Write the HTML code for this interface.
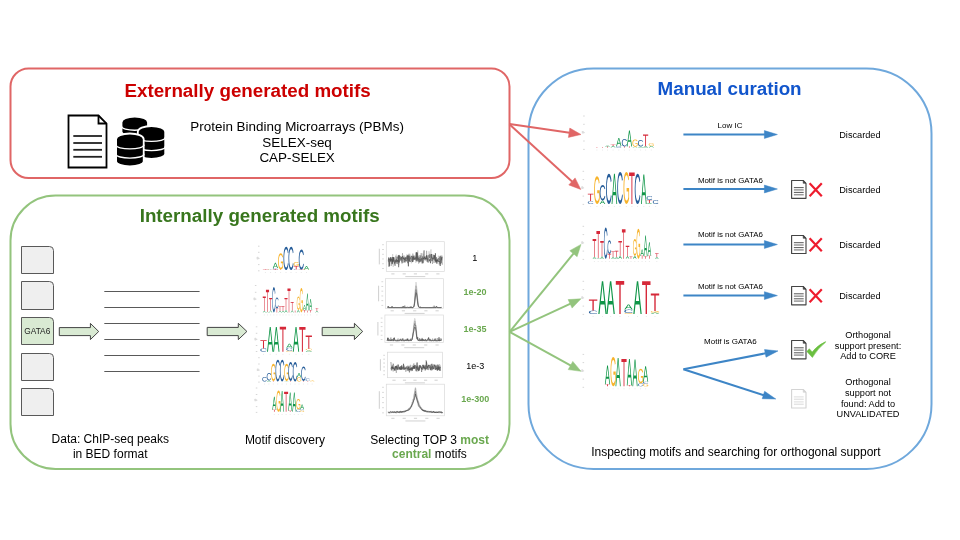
<!DOCTYPE html>
<html><head><meta charset="utf-8"><style>
html,body{margin:0;padding:0;background:#fff;width:960px;height:540px;overflow:hidden;position:relative}
svg{will-change:transform}
svg text{font-family:"Liberation Sans", sans-serif}
</style></head><body>
<svg width="960" height="540" viewBox="0 0 960 540" style="position:absolute;left:0;top:0">
<g font-family='"Liberation Sans", sans-serif'>
<defs><path id="gA" d="M0.8564 1 0.7378 0.7076H0.2651L0.1458 1H0L0.4234 0H0.5832L1 1ZM0.5015 0.1022 0.4948 0.1221Q0.4764 0.181 0.4404 0.2732L0.3078 0.6018H0.6959L0.5626 0.2718Q0.542 0.2229 0.5214 0.1611Z" fill="#109648"/><path id="gC" d="M0.5305 0.1076Q0.35 0.1076 0.2498 0.2114Q0.1496 0.3152 0.1496 0.4959Q0.1496 0.6745 0.254 0.7831Q0.3585 0.8917 0.5366 0.8917Q0.7648 0.8917 0.8797 0.6897L1 0.7434Q0.9329 0.869 0.8115 0.9345Q0.6901 1 0.5297 1Q0.3655 1 0.2456 0.939Q0.1257 0.8779 0.0628 0.7645Q0 0.651 0 0.4959Q0 0.2634 0.1403 0.1317Q0.2806 0 0.5289 0Q0.7024 0 0.8188 0.0607Q0.9352 0.1214 0.99 0.2407L0.8504 0.2821Q0.8126 0.1972 0.729 0.1524Q0.6453 0.1076 0.5305 0.1076Z" fill="#255C99"/><path id="gG" d="M0 0.4959Q0 0.2593 0.1376 0.1297Q0.2752 0 0.5243 0Q0.6993 0 0.8085 0.0545Q0.9177 0.109 0.9768 0.229L0.8407 0.2662Q0.7958 0.1834 0.7169 0.1455Q0.638 0.1076 0.5206 0.1076Q0.3381 0.1076 0.2416 0.2093Q0.1451 0.311 0.1451 0.4959Q0.1451 0.68 0.2476 0.7866Q0.35 0.8931 0.531 0.8931Q0.6343 0.8931 0.7236 0.8641Q0.813 0.8352 0.8684 0.7855V0.6103H0.5535V0.5H1V0.8352Q0.9162 0.9138 0.7947 0.9569Q0.6731 1 0.531 1Q0.3657 1 0.2461 0.9393Q0.1264 0.8786 0.0632 0.7645Q0 0.6503 0 0.4959Z" fill="#F7B32B"/><path id="gT" d="M0.582 0.1107V1H0.418V0.1107H0V0H1V0.1107Z" fill="#D62839"/></defs>
<rect x="10.5" y="68.5" width="499" height="109.6" rx="18" ry="18" fill="none" stroke="#e06666" stroke-width="2"/>
<rect x="10.5" y="195.5" width="499" height="273.4" rx="45" ry="45" fill="none" stroke="#93c47d" stroke-width="2"/>
<rect x="528.5" y="68.5" width="403" height="400.4" rx="65" ry="65" fill="none" stroke="#6fa8dc" stroke-width="2"/>
<text x="247.6" y="96.7" font-size="18.8" font-weight="bold" fill="#cc0000" text-anchor="middle" >Externally generated motifs</text>
<text x="259.7" y="221.7" font-size="18.8" font-weight="bold" fill="#38761d" text-anchor="middle" >Internally generated motifs</text>
<text x="729.6" y="94.7" font-size="18.8" font-weight="bold" fill="#1155cc" text-anchor="middle" >Manual curation</text>
<text x="297.1" y="130.6" font-size="13.45" font-weight="normal" fill="#000" text-anchor="middle" >Protein Binding Microarrays (PBMs)</text>
<text x="297.1" y="146.8" font-size="13.45" font-weight="normal" fill="#000" text-anchor="middle" >SELEX-seq</text>
<text x="297.1" y="162.2" font-size="13.45" font-weight="normal" fill="#000" text-anchor="middle" >CAP-SELEX</text>
<path d="M68.5,115.5 H98.5 L106.5,123.5 V167.5 H68.5 Z" fill="#fff" stroke="#000" stroke-width="1.8" stroke-linejoin="miter"/>
<path d="M98.5,115.5 V123.5 H106.5" fill="none" stroke="#000" stroke-width="1.8"/>
<line x1="73.3" y1="136" x2="102" y2="136" stroke="#222" stroke-width="1.8"/>
<line x1="73.3" y1="143" x2="102" y2="143" stroke="#222" stroke-width="1.8"/>
<line x1="73.3" y1="149.8" x2="102" y2="149.8" stroke="#222" stroke-width="1.8"/>
<line x1="73.3" y1="156.8" x2="102" y2="156.8" stroke="#222" stroke-width="1.8"/>
<path d="M121.5,122.4 A13.2,5.8 0 0 1 148.0,122.4 V131.8 A13.2,4.8 0 0 1 121.5,131.8 Z" fill="#000" stroke="#fff" stroke-width="1.8"/>
<path d="M120.7,126.6 L121.5,126.6 A13.2,3.6 0 0 0 148.0,126.6 L148.8,126.6" fill="none" stroke="#fff" stroke-width="1.4"/>
<path d="M137.8,131.8 A13.7,5.8 0 0 1 165.2,131.8 V154.0 A13.7,4.8 0 0 1 137.8,154.0 Z" fill="#000" stroke="#fff" stroke-width="1.8"/>
<path d="M137.0,137.8 L137.8,137.8 A13.7,3.6 0 0 0 165.2,137.8 L166.0,137.8" fill="none" stroke="#fff" stroke-width="1.4"/>
<path d="M137.0,147.0 L137.8,147.0 A13.7,3.6 0 0 0 165.2,147.0 L166.0,147.0" fill="none" stroke="#fff" stroke-width="1.4"/>
<path d="M116.1,139.3 A13.8,5.8 0 0 1 143.7,139.3 V161.5 A13.8,4.8 0 0 1 116.1,161.5 Z" fill="#000" stroke="#fff" stroke-width="1.8"/>
<path d="M115.3,145.3 L116.1,145.3 A13.8,3.6 0 0 0 143.7,145.3 L144.5,145.3" fill="none" stroke="#fff" stroke-width="1.4"/>
<path d="M115.3,154.5 L116.1,154.5 A13.8,3.6 0 0 0 143.7,154.5 L144.5,154.5" fill="none" stroke="#fff" stroke-width="1.4"/>
<path d="M21.5,273.5 V246.5 H49.5 Q53.5,246.5 53.5,250.5 V273.5 Z" fill="#efefef" stroke="#595959" stroke-width="1"/>
<path d="M21.5,309.5 V281.5 H49.5 Q53.5,281.5 53.5,285.5 V309.5 Z" fill="#efefef" stroke="#595959" stroke-width="1"/>
<path d="M21.5,344.5 V317.5 H49.5 Q53.5,317.5 53.5,321.5 V344.5 Z" fill="#d9ead3" stroke="#595959" stroke-width="1"/>
<path d="M21.5,380.5 V353.5 H49.5 Q53.5,353.5 53.5,357.5 V380.5 Z" fill="#efefef" stroke="#595959" stroke-width="1"/>
<path d="M21.5,415.5 V388.5 H49.5 Q53.5,388.5 53.5,392.5 V415.5 Z" fill="#efefef" stroke="#595959" stroke-width="1"/>
<text x="37.3" y="333.9" font-size="8.3" font-weight="normal" fill="#222" text-anchor="middle" >GATA6</text>
<path d="M59.3,327.6 H90.4 V323.4 L98.7,331.5 L90.4,339.6 V335.6 H59.3 Z" fill="#d9ead3" stroke="#434343" stroke-width="1" stroke-linejoin="miter"/>
<path d="M207.2,327.4 H238.3 V323.3 L246.9,331.45000000000005 L238.3,339.6 V335.6 H207.2 Z" fill="#d9ead3" stroke="#434343" stroke-width="1" stroke-linejoin="miter"/>
<path d="M322.2,327.4 H354.4 V323.3 L362.7,331.45000000000005 L354.4,339.6 V335.6 H322.2 Z" fill="#d9ead3" stroke="#434343" stroke-width="1" stroke-linejoin="miter"/>
<line x1="104.3" y1="291.5" x2="199.6" y2="291.5" stroke="#595959" stroke-width="1.1"/>
<line x1="104.3" y1="307.5" x2="199.6" y2="307.5" stroke="#595959" stroke-width="1.1"/>
<line x1="104.3" y1="323.5" x2="199.6" y2="323.5" stroke="#595959" stroke-width="1.1"/>
<line x1="104.3" y1="339.5" x2="199.6" y2="339.5" stroke="#595959" stroke-width="1.1"/>
<line x1="104.3" y1="355.5" x2="199.6" y2="355.5" stroke="#595959" stroke-width="1.1"/>
<line x1="104.3" y1="371.5" x2="199.6" y2="371.5" stroke="#595959" stroke-width="1.1"/>
<text x="110.3" y="443.3" font-size="12" font-weight="normal" fill="#000" text-anchor="middle" >Data: ChIP-seq peaks</text>
<text x="110.3" y="457.5" font-size="12" font-weight="normal" fill="#000" text-anchor="middle" >in BED format</text>
<text x="284.9" y="444" font-size="12" font-weight="normal" fill="#000" text-anchor="middle" >Motif discovery</text>
<text x="429.6" y="444" font-size="12" text-anchor="middle">Selecting TOP 3 <tspan font-weight="bold" fill="#6aa84f">most</tspan></text>
<text x="429.4" y="457.5" font-size="12" text-anchor="middle"><tspan font-weight="bold" fill="#6aa84f">central</tspan> motifs</text>
<text x="474.8" y="261.1" font-size="9.2" font-weight="normal" fill="#000" text-anchor="middle" >1</text>
<text x="475.1" y="294.8" font-size="9" font-weight="bold" fill="#6aa84f" text-anchor="middle" >1e-20</text>
<text x="475.0" y="332.4" font-size="9" font-weight="bold" fill="#6aa84f" text-anchor="middle" >1e-35</text>
<text x="475.3" y="369.4" font-size="9" font-weight="normal" fill="#000" text-anchor="middle" >1e-3</text>
<text x="475.2" y="402.1" font-size="9" font-weight="bold" fill="#6aa84f" text-anchor="middle" >1e-300</text>
<rect x="386.3" y="241.7" width="58.0" height="29.7" fill="none" stroke="#d9d9d9" stroke-width="0.7"/>
<rect x="382.1" y="244.3" width="1.8" height="0.9" fill="#d4d4d4"/>
<rect x="382.1" y="249.0" width="1.8" height="0.9" fill="#d4d4d4"/>
<rect x="382.1" y="253.8" width="1.8" height="0.9" fill="#d4d4d4"/>
<rect x="382.1" y="258.5" width="1.8" height="0.9" fill="#d4d4d4"/>
<rect x="382.1" y="263.3" width="1.8" height="0.9" fill="#d4d4d4"/>
<rect x="382.1" y="268.0" width="1.8" height="0.9" fill="#d4d4d4"/>
<rect x="378.8" y="248.7" width="1.0" height="15.7" fill="#cfcfcf"/>
<rect x="391.3" y="273.4" width="3.2" height="1.0" fill="#d0d0d0"/>
<rect x="402.6" y="273.4" width="3.2" height="1.0" fill="#d0d0d0"/>
<rect x="413.8" y="273.4" width="3.2" height="1.0" fill="#d0d0d0"/>
<rect x="425.1" y="273.4" width="3.2" height="1.0" fill="#d0d0d0"/>
<rect x="436.3" y="273.4" width="3.2" height="1.0" fill="#d0d0d0"/>
<rect x="405.3" y="276.0" width="20" height="1.1" fill="#d6d6d6"/>
<polyline points="388.3,258.0 388.8,257.4 389.3,264.3 389.8,261.2 390.3,260.6 390.8,260.7 391.2,261.0 391.7,261.1 392.2,260.0 392.7,254.1 393.2,266.9 393.7,262.3 394.2,261.2 394.7,260.2 395.2,262.4 395.7,260.3 396.2,254.5 396.6,259.6 397.1,261.2 397.6,261.4 398.1,258.2 398.6,258.2 399.1,257.2 399.6,260.9 400.1,260.9 400.6,256.2 401.1,260.9 401.6,259.6 402.0,260.9 402.5,258.5 403.0,260.5 403.5,261.6 404.0,258.6 404.5,262.4 405.0,258.3 405.5,258.8 406.0,261.2 406.5,260.4 407.0,254.2 407.4,259.3 407.9,258.4 408.4,255.4 408.9,260.7 409.4,258.0 409.9,253.8 410.4,258.3 410.9,258.7 411.4,263.3 411.9,259.2 412.4,257.9 412.8,257.3 413.3,255.2 413.8,260.1 414.3,255.4 414.8,258.8 415.3,257.9 415.8,262.8 416.3,260.8 416.8,257.2 417.3,259.9 417.8,250.4 418.2,257.7 418.7,255.0 419.2,255.5 419.7,256.2 420.2,255.1 420.7,258.7 421.2,260.8 421.7,255.3 422.2,257.5 422.7,253.4 423.2,254.3 423.6,261.7 424.1,261.0 424.6,258.3 425.1,259.6 425.6,259.8 426.1,258.5 426.6,259.9 427.1,258.2 427.6,260.2 428.1,259.2 428.6,260.3 429.0,251.3 429.5,256.7 430.0,260.0 430.5,251.7 431.0,249.4 431.5,254.9 432.0,259.2 432.5,254.2 433.0,259.1 433.5,259.5 434.0,257.0 434.4,258.1 434.9,257.4 435.4,261.1 435.9,258.7 436.4,257.0 436.9,258.6 437.4,258.4 437.9,261.4 438.4,255.7 438.9,264.4 439.4,260.3 439.8,262.1 440.3,259.4 440.8,260.4 441.3,258.3 441.8,255.0 442.3,261.2" fill="none" stroke="#c4c4c4" stroke-width="0.6" stroke-linejoin="round"/>
<polyline points="388.3,259.6 388.8,266.8 389.3,265.4 389.8,261.8 390.3,261.6 390.8,259.9 391.2,266.0 391.7,260.4 392.2,263.5 392.7,258.9 393.2,259.7 393.7,258.0 394.2,261.9 394.7,260.3 395.2,260.8 395.7,256.1 396.2,256.5 396.6,257.4 397.1,260.3 397.6,259.8 398.1,255.5 398.6,265.1 399.1,254.9 399.6,259.8 400.1,256.6 400.6,259.3 401.1,259.5 401.6,261.9 402.0,261.1 402.5,253.2 403.0,263.0 403.5,258.4 404.0,255.5 404.5,260.6 405.0,262.8 405.5,259.7 406.0,257.0 406.5,255.9 407.0,259.1 407.4,256.2 407.9,259.7 408.4,260.8 408.9,253.8 409.4,260.3 409.9,255.6 410.4,258.5 410.9,257.9 411.4,259.4 411.9,258.7 412.4,259.5 412.8,253.6 413.3,256.4 413.8,255.6 414.3,256.6 414.8,258.7 415.3,257.1 415.8,260.2 416.3,256.1 416.8,259.1 417.3,257.4 417.8,258.4 418.2,256.0 418.7,263.6 419.2,258.6 419.7,259.5 420.2,258.8 420.7,261.9 421.2,253.1 421.7,259.1 422.2,256.2 422.7,260.3 423.2,258.0 423.6,257.3 424.1,258.8 424.6,258.4 425.1,256.5 425.6,256.5 426.1,261.0 426.6,250.8 427.1,262.0 427.6,258.1 428.1,258.3 428.6,260.1 429.0,257.7 429.5,255.4 430.0,256.3 430.5,259.3 431.0,255.3 431.5,256.9 432.0,257.8 432.5,264.0 433.0,256.9 433.5,260.6 434.0,263.0 434.4,261.6 434.9,260.1 435.4,259.4 435.9,262.9 436.4,260.7 436.9,259.3 437.4,261.3 437.9,259.0 438.4,259.8 438.9,260.5 439.4,260.7 439.8,256.1 440.3,255.6 440.8,260.2 441.3,262.2 441.8,263.0 442.3,256.2" fill="none" stroke="#9a9a9a" stroke-width="0.6" stroke-linejoin="round"/>
<polyline points="388.3,262.1 388.8,260.1 389.3,258.6 389.8,258.7 390.3,261.7 390.8,257.3 391.2,261.5 391.7,260.7 392.2,259.9 392.7,262.4 393.2,261.3 393.7,257.1 394.2,259.3 394.7,265.3 395.2,265.8 395.7,260.0 396.2,261.9 396.6,258.7 397.1,256.8 397.6,257.0 398.1,259.5 398.6,267.2 399.1,262.0 399.6,260.8 400.1,259.8 400.6,259.7 401.1,260.5 401.6,256.9 402.0,263.4 402.5,259.2 403.0,257.1 403.5,259.2 404.0,257.6 404.5,262.0 405.0,257.6 405.5,261.4 406.0,259.5 406.5,257.3 407.0,259.0 407.4,258.6 407.9,263.2 408.4,255.6 408.9,255.0 409.4,261.3 409.9,261.0 410.4,261.5 410.9,261.1 411.4,261.2 411.9,255.7 412.4,262.1 412.8,259.5 413.3,256.5 413.8,259.7 414.3,258.6 414.8,259.0 415.3,257.9 415.8,260.3 416.3,252.0 416.8,254.1 417.3,259.4 417.8,259.5 418.2,259.1 418.7,258.1 419.2,256.9 419.7,260.2 420.2,255.5 420.7,260.4 421.2,261.5 421.7,259.5 422.2,259.2 422.7,256.6 423.2,263.2 423.6,253.8 424.1,250.4 424.6,259.7 425.1,259.6 425.6,257.6 426.1,259.7 426.6,255.1 427.1,258.5 427.6,259.7 428.1,259.4 428.6,255.3 429.0,254.8 429.5,257.9 430.0,253.9 430.5,256.1 431.0,256.6 431.5,257.9 432.0,257.5 432.5,258.2 433.0,257.7 433.5,254.8 434.0,259.4 434.4,255.5 434.9,255.8 435.4,261.3 435.9,258.6 436.4,257.5 436.9,261.6 437.4,259.4 437.9,261.3 438.4,258.1 438.9,259.1 439.4,260.2 439.8,256.7 440.3,263.8 440.8,256.0 441.3,258.9 441.8,259.7 442.3,257.0" fill="none" stroke="#6a6a6a" stroke-width="0.6" stroke-linejoin="round"/>
<polyline points="388.3,260.5 388.8,257.6 389.3,266.3 389.8,259.1 390.3,260.6 390.8,257.3 391.2,260.4 391.7,258.7 392.2,264.2 392.7,257.0 393.2,261.5 393.7,257.3 394.2,262.0 394.7,263.6 395.2,261.7 395.7,261.9 396.2,259.3 396.6,262.5 397.1,263.8 397.6,260.0 398.1,262.1 398.6,255.3 399.1,262.5 399.6,255.6 400.1,257.0 400.6,258.9 401.1,259.6 401.6,257.6 402.0,257.5 402.5,256.1 403.0,258.8 403.5,258.6 404.0,258.8 404.5,259.7 405.0,257.7 405.5,257.6 406.0,260.8 406.5,261.2 407.0,259.7 407.4,255.3 407.9,259.7 408.4,266.3 408.9,256.0 409.4,259.6 409.9,261.7 410.4,258.9 410.9,256.9 411.4,256.3 411.9,256.9 412.4,256.7 412.8,261.9 413.3,259.7 413.8,256.3 414.3,259.7 414.8,258.4 415.3,258.6 415.8,257.2 416.3,252.7 416.8,261.3 417.3,252.5 417.8,260.8 418.2,261.5 418.7,258.5 419.2,259.3 419.7,262.3 420.2,259.7 420.7,260.1 421.2,259.5 421.7,258.3 422.2,263.4 422.7,260.2 423.2,258.1 423.6,258.8 424.1,258.1 424.6,256.7 425.1,259.1 425.6,258.2 426.1,259.0 426.6,255.8 427.1,255.6 427.6,261.6 428.1,262.5 428.6,261.3 429.0,259.7 429.5,261.2 430.0,259.0 430.5,263.2 431.0,256.9 431.5,254.0 432.0,261.1 432.5,258.2 433.0,259.1 433.5,258.9 434.0,257.7 434.4,255.3 434.9,260.5 435.4,253.3 435.9,262.1 436.4,259.7 436.9,263.7 437.4,260.2 437.9,260.5 438.4,260.7 438.9,262.0 439.4,260.9 439.8,264.9 440.3,265.9 440.8,261.2 441.3,257.3 441.8,262.2 442.3,264.6" fill="none" stroke="#444" stroke-width="0.6" stroke-linejoin="round"/>
<rect x="385.6" y="278.7" width="57.9" height="29.6" fill="none" stroke="#d9d9d9" stroke-width="0.7"/>
<rect x="381.4" y="281.3" width="1.8" height="0.9" fill="#d4d4d4"/>
<rect x="381.4" y="286.0" width="1.8" height="0.9" fill="#d4d4d4"/>
<rect x="381.4" y="290.7" width="1.8" height="0.9" fill="#d4d4d4"/>
<rect x="381.4" y="295.5" width="1.8" height="0.9" fill="#d4d4d4"/>
<rect x="381.4" y="300.2" width="1.8" height="0.9" fill="#d4d4d4"/>
<rect x="381.4" y="304.9" width="1.8" height="0.9" fill="#d4d4d4"/>
<rect x="378.1" y="285.7" width="1.0" height="15.6" fill="#cfcfcf"/>
<rect x="390.6" y="310.3" width="3.2" height="1.0" fill="#d0d0d0"/>
<rect x="401.8" y="310.3" width="3.2" height="1.0" fill="#d0d0d0"/>
<rect x="413.1" y="310.3" width="3.2" height="1.0" fill="#d0d0d0"/>
<rect x="424.3" y="310.3" width="3.2" height="1.0" fill="#d0d0d0"/>
<rect x="435.5" y="310.3" width="3.2" height="1.0" fill="#d0d0d0"/>
<rect x="404.6" y="312.9" width="20" height="1.1" fill="#d6d6d6"/>
<polyline points="387.6,307.6 388.1,307.6 388.6,307.6 389.1,307.6 389.6,307.6 390.1,307.6 390.5,307.6 391.0,307.6 391.5,307.6 392.0,307.6 392.5,306.6 393.0,307.6 393.5,307.6 394.0,307.6 394.5,307.6 395.0,307.6 395.4,307.6 395.9,307.6 396.4,307.6 396.9,307.6 397.4,307.6 397.9,307.6 398.4,307.6 398.9,307.6 399.4,307.6 399.9,307.6 400.3,307.6 400.8,307.6 401.3,307.6 401.8,307.6 402.3,307.6 402.8,307.6 403.3,307.6 403.8,307.6 404.3,307.6 404.8,307.6 405.2,307.6 405.7,307.6 406.2,307.6 406.7,307.6 407.2,307.6 407.7,307.6 408.2,307.6 408.7,307.6 409.2,307.6 409.7,307.6 410.1,307.6 410.6,307.6 411.1,307.6 411.6,306.8 412.1,307.6 412.6,307.6 413.1,307.4 413.6,306.8 414.1,304.8 414.6,301.2 415.0,292.4 415.5,287.4 416.0,282.1 416.5,285.2 417.0,291.2 417.5,296.8 418.0,302.5 418.5,305.8 419.0,307.1 419.4,307.5 419.9,307.6 420.4,307.6 420.9,307.6 421.4,307.6 421.9,307.6 422.4,307.6 422.9,307.6 423.4,307.5 423.9,307.6 424.4,307.6 424.8,307.6 425.3,307.6 425.8,307.6 426.3,307.6 426.8,307.6 427.3,307.6 427.8,307.5 428.3,307.6 428.8,307.6 429.2,307.6 429.7,307.6 430.2,307.6 430.7,307.6 431.2,307.6 431.7,307.6 432.2,307.6 432.7,306.7 433.2,307.6 433.7,307.6 434.1,307.6 434.6,307.6 435.1,307.6 435.6,306.1 436.1,307.6 436.6,307.6 437.1,307.6 437.6,307.6 438.1,307.6 438.6,307.6 439.1,307.6 439.5,307.6 440.0,307.6 440.5,307.6 441.0,307.6 441.5,307.6" fill="none" stroke="#c4c4c4" stroke-width="0.6" stroke-linejoin="round"/>
<polyline points="387.6,307.6 388.1,307.6 388.6,306.2 389.1,307.6 389.6,307.6 390.1,307.6 390.5,307.6 391.0,307.6 391.5,307.6 392.0,307.6 392.5,307.6 393.0,307.6 393.5,307.6 394.0,307.6 394.5,307.6 395.0,307.6 395.4,307.4 395.9,307.6 396.4,307.6 396.9,307.6 397.4,307.6 397.9,307.6 398.4,307.6 398.9,307.6 399.4,307.6 399.9,307.6 400.3,307.6 400.8,307.6 401.3,307.6 401.8,307.6 402.3,306.3 402.8,307.6 403.3,307.6 403.8,307.6 404.3,307.6 404.8,307.6 405.2,307.6 405.7,307.6 406.2,307.6 406.7,307.6 407.2,307.6 407.7,306.6 408.2,307.6 408.7,307.6 409.2,307.6 409.7,307.6 410.1,307.6 410.6,307.6 411.1,307.6 411.6,307.6 412.1,307.6 412.6,307.6 413.1,307.4 413.6,306.9 414.1,305.5 414.6,301.2 415.0,295.7 415.5,289.4 416.0,285.7 416.5,288.1 417.0,293.6 417.5,298.4 418.0,303.4 418.5,306.2 419.0,307.2 419.4,307.5 419.9,307.6 420.4,306.4 420.9,307.6 421.4,307.6 421.9,307.6 422.4,307.6 422.9,307.6 423.4,307.6 423.9,307.6 424.4,307.6 424.8,307.6 425.3,307.6 425.8,307.6 426.3,307.6 426.8,307.6 427.3,307.6 427.8,307.6 428.3,307.6 428.8,307.6 429.2,307.6 429.7,307.6 430.2,307.6 430.7,307.6 431.2,307.6 431.7,307.6 432.2,307.6 432.7,307.6 433.2,307.6 433.7,307.6 434.1,307.6 434.6,307.6 435.1,307.6 435.6,307.6 436.1,307.6 436.6,307.6 437.1,307.6 437.6,307.6 438.1,307.6 438.6,307.6 439.1,307.6 439.5,307.6 440.0,307.6 440.5,307.6 441.0,307.6 441.5,306.8" fill="none" stroke="#9a9a9a" stroke-width="0.6" stroke-linejoin="round"/>
<polyline points="387.6,307.6 388.1,307.6 388.6,307.6 389.1,307.6 389.6,307.6 390.1,307.6 390.5,307.6 391.0,307.6 391.5,307.6 392.0,307.6 392.5,307.6 393.0,307.6 393.5,307.6 394.0,307.3 394.5,307.6 395.0,307.6 395.4,307.6 395.9,307.6 396.4,307.6 396.9,307.6 397.4,307.6 397.9,307.6 398.4,307.6 398.9,307.6 399.4,307.6 399.9,307.6 400.3,307.4 400.8,307.6 401.3,307.6 401.8,307.6 402.3,307.6 402.8,307.6 403.3,307.6 403.8,307.6 404.3,307.6 404.8,305.6 405.2,307.6 405.7,307.6 406.2,307.2 406.7,307.6 407.2,307.6 407.7,307.6 408.2,307.6 408.7,307.6 409.2,307.1 409.7,307.6 410.1,307.6 410.6,307.6 411.1,307.6 411.6,307.6 412.1,307.6 412.6,307.6 413.1,307.5 413.6,307.0 414.1,305.7 414.6,302.9 415.0,297.9 415.5,293.8 416.0,289.5 416.5,292.2 417.0,295.7 417.5,300.2 418.0,304.2 418.5,306.4 419.0,307.3 419.4,307.5 419.9,307.2 420.4,307.6 420.9,307.6 421.4,307.6 421.9,307.6 422.4,307.6 422.9,307.6 423.4,307.6 423.9,307.6 424.4,307.6 424.8,307.6 425.3,307.6 425.8,307.6 426.3,307.6 426.8,307.6 427.3,307.6 427.8,307.6 428.3,307.6 428.8,307.6 429.2,307.6 429.7,307.6 430.2,307.6 430.7,307.6 431.2,307.6 431.7,307.6 432.2,307.6 432.7,307.6 433.2,307.6 433.7,307.6 434.1,305.7 434.6,307.6 435.1,307.6 435.6,307.6 436.1,307.6 436.6,306.3 437.1,307.6 437.6,307.6 438.1,307.6 438.6,307.6 439.1,307.6 439.5,307.6 440.0,307.6 440.5,307.6 441.0,307.6 441.5,307.6" fill="none" stroke="#6a6a6a" stroke-width="0.6" stroke-linejoin="round"/>
<polyline points="387.6,307.6 388.1,306.1 388.6,307.6 389.1,307.6 389.6,307.6 390.1,307.6 390.5,307.6 391.0,307.6 391.5,307.6 392.0,306.1 392.5,307.6 393.0,307.6 393.5,307.6 394.0,307.6 394.5,307.6 395.0,307.6 395.4,307.6 395.9,307.6 396.4,307.6 396.9,307.6 397.4,307.6 397.9,307.6 398.4,307.6 398.9,307.6 399.4,307.6 399.9,307.6 400.3,307.6 400.8,307.6 401.3,307.6 401.8,307.6 402.3,307.6 402.8,307.6 403.3,306.1 403.8,307.6 404.3,307.6 404.8,307.6 405.2,307.6 405.7,307.6 406.2,307.6 406.7,307.6 407.2,307.6 407.7,307.1 408.2,307.6 408.7,307.6 409.2,307.6 409.7,307.6 410.1,306.7 410.6,307.6 411.1,306.5 411.6,307.6 412.1,307.6 412.6,307.6 413.1,307.5 413.6,307.1 414.1,306.2 414.6,303.6 415.0,300.1 415.5,296.1 416.0,292.6 416.5,293.5 417.0,297.7 417.5,301.9 418.0,305.0 418.5,306.7 419.0,307.3 419.4,306.9 419.9,307.6 420.4,307.6 420.9,307.6 421.4,307.6 421.9,307.6 422.4,307.6 422.9,307.6 423.4,307.6 423.9,307.6 424.4,307.6 424.8,307.6 425.3,307.6 425.8,307.6 426.3,307.6 426.8,307.6 427.3,307.6 427.8,307.6 428.3,307.6 428.8,307.6 429.2,307.6 429.7,307.6 430.2,307.6 430.7,307.6 431.2,307.6 431.7,307.6 432.2,307.6 432.7,307.6 433.2,307.6 433.7,307.6 434.1,307.6 434.6,307.6 435.1,307.6 435.6,307.6 436.1,307.6 436.6,306.5 437.1,306.9 437.6,307.6 438.1,307.6 438.6,307.6 439.1,307.6 439.5,307.6 440.0,307.6 440.5,307.6 441.0,307.6 441.5,307.6" fill="none" stroke="#444" stroke-width="0.6" stroke-linejoin="round"/>
<rect x="384.9" y="315.0" width="58.6" height="27.5" fill="none" stroke="#d9d9d9" stroke-width="0.7"/>
<rect x="380.7" y="317.6" width="1.8" height="0.9" fill="#d4d4d4"/>
<rect x="380.7" y="321.9" width="1.8" height="0.9" fill="#d4d4d4"/>
<rect x="380.7" y="326.2" width="1.8" height="0.9" fill="#d4d4d4"/>
<rect x="380.7" y="330.5" width="1.8" height="0.9" fill="#d4d4d4"/>
<rect x="380.7" y="334.8" width="1.8" height="0.9" fill="#d4d4d4"/>
<rect x="380.7" y="339.1" width="1.8" height="0.9" fill="#d4d4d4"/>
<rect x="377.4" y="322.0" width="1.0" height="13.5" fill="#cfcfcf"/>
<rect x="389.9" y="344.5" width="3.2" height="1.0" fill="#d0d0d0"/>
<rect x="401.3" y="344.5" width="3.2" height="1.0" fill="#d0d0d0"/>
<rect x="412.7" y="344.5" width="3.2" height="1.0" fill="#d0d0d0"/>
<rect x="424.1" y="344.5" width="3.2" height="1.0" fill="#d0d0d0"/>
<rect x="435.5" y="344.5" width="3.2" height="1.0" fill="#d0d0d0"/>
<rect x="404.2" y="347.1" width="20" height="1.1" fill="#d6d6d6"/>
<polyline points="386.9,340.5 387.4,340.4 387.9,337.7 388.4,340.3 388.9,340.8 389.4,340.6 389.9,340.9 390.4,338.1 390.9,340.4 391.4,340.3 391.9,340.6 392.4,340.2 392.9,340.6 393.4,340.6 393.8,340.5 394.3,340.4 394.8,340.2 395.3,340.3 395.8,340.5 396.3,340.3 396.8,340.9 397.3,340.9 397.8,340.8 398.3,338.4 398.8,340.4 399.3,340.2 399.8,338.9 400.3,340.8 400.8,338.2 401.3,340.2 401.8,340.6 402.3,340.5 402.8,340.2 403.3,339.5 403.8,340.6 404.3,340.6 404.8,340.5 405.3,340.5 405.8,340.7 406.3,338.9 406.8,340.8 407.3,340.7 407.7,340.7 408.2,340.7 408.7,340.5 409.2,340.8 409.7,340.8 410.2,340.9 410.7,340.3 411.2,340.6 411.7,339.5 412.2,338.8 412.7,335.6 413.2,331.6 413.7,324.4 414.2,321.1 414.7,318.3 415.2,319.3 415.7,325.1 416.2,328.8 416.7,331.8 417.2,337.7 417.7,339.6 418.2,340.4 418.7,340.2 419.2,340.3 419.7,340.9 420.2,340.7 420.7,340.6 421.1,340.7 421.6,340.6 422.1,340.8 422.6,340.8 423.1,340.3 423.6,340.5 424.1,340.7 424.6,340.6 425.1,340.6 425.6,340.9 426.1,340.9 426.6,340.7 427.1,340.5 427.6,339.0 428.1,340.1 428.6,340.5 429.1,340.3 429.6,340.7 430.1,340.6 430.6,340.8 431.1,340.9 431.6,340.3 432.1,340.3 432.6,338.1 433.1,340.3 433.6,340.4 434.1,340.1 434.6,340.6 435.0,338.3 435.5,340.3 436.0,340.2 436.5,340.9 437.0,338.1 437.5,340.9 438.0,339.8 438.5,340.5 439.0,340.7 439.5,339.1 440.0,340.6 440.5,340.4 441.0,340.6 441.5,340.0" fill="none" stroke="#c4c4c4" stroke-width="0.6" stroke-linejoin="round"/>
<polyline points="386.9,340.3 387.4,339.6 387.9,340.5 388.4,340.4 388.9,340.4 389.4,340.5 389.9,340.9 390.4,340.8 390.9,337.4 391.4,340.5 391.9,340.3 392.4,340.4 392.9,340.4 393.4,338.6 393.8,340.2 394.3,340.8 394.8,340.4 395.3,340.8 395.8,340.6 396.3,340.9 396.8,340.7 397.3,340.9 397.8,338.8 398.3,340.7 398.8,340.7 399.3,340.3 399.8,340.2 400.3,340.4 400.8,340.5 401.3,340.4 401.8,339.0 402.3,340.4 402.8,340.8 403.3,340.8 403.8,340.9 404.3,340.7 404.8,340.5 405.3,340.5 405.8,340.4 406.3,340.7 406.8,338.8 407.3,340.4 407.7,340.6 408.2,340.7 408.7,340.4 409.2,339.8 409.7,340.4 410.2,339.3 410.7,340.5 411.2,340.6 411.7,339.7 412.2,338.7 412.7,336.2 413.2,332.3 413.7,327.3 414.2,324.1 414.7,320.8 415.2,321.6 415.7,326.1 416.2,328.0 416.7,335.9 417.2,338.8 417.7,339.8 418.2,340.6 418.7,340.2 419.2,340.7 419.7,340.3 420.2,340.5 420.7,339.3 421.1,340.5 421.6,340.7 422.1,337.9 422.6,340.7 423.1,340.5 423.6,339.0 424.1,339.6 424.6,340.4 425.1,339.5 425.6,339.2 426.1,340.9 426.6,340.9 427.1,340.5 427.6,340.9 428.1,340.4 428.6,339.9 429.1,340.5 429.6,340.4 430.1,340.7 430.6,338.9 431.1,340.8 431.6,340.3 432.1,340.9 432.6,339.3 433.1,340.9 433.6,340.4 434.1,340.4 434.6,340.5 435.0,338.3 435.5,338.6 436.0,340.4 436.5,340.8 437.0,340.6 437.5,338.3 438.0,340.3 438.5,340.3 439.0,339.5 439.5,340.9 440.0,340.9 440.5,339.0 441.0,338.0 441.5,340.5" fill="none" stroke="#9a9a9a" stroke-width="0.6" stroke-linejoin="round"/>
<polyline points="386.9,340.5 387.4,340.6 387.9,337.9 388.4,338.9 388.9,340.3 389.4,340.4 389.9,340.5 390.4,340.3 390.9,340.8 391.4,339.4 391.9,340.9 392.4,340.6 392.9,340.8 393.4,340.7 393.8,338.0 394.3,340.3 394.8,340.2 395.3,340.2 395.8,340.6 396.3,340.2 396.8,340.0 397.3,340.7 397.8,340.9 398.3,340.6 398.8,340.4 399.3,340.7 399.8,340.8 400.3,340.2 400.8,339.7 401.3,340.6 401.8,340.3 402.3,340.3 402.8,340.8 403.3,340.8 403.8,340.2 404.3,340.6 404.8,339.6 405.3,340.6 405.8,339.6 406.3,340.3 406.8,340.9 407.3,340.4 407.7,338.5 408.2,340.6 408.7,340.7 409.2,340.3 409.7,340.4 410.2,340.5 410.7,338.7 411.2,340.4 411.7,340.1 412.2,337.8 412.7,337.1 413.2,333.1 413.7,330.5 414.2,326.2 414.7,323.5 415.2,325.7 415.7,325.1 416.2,333.5 416.7,336.8 417.2,338.8 417.7,340.2 418.2,340.1 418.7,340.5 419.2,340.5 419.7,340.7 420.2,340.7 420.7,339.8 421.1,340.8 421.6,340.2 422.1,338.5 422.6,340.8 423.1,340.9 423.6,339.5 424.1,340.3 424.6,340.7 425.1,340.8 425.6,339.1 426.1,340.6 426.6,340.9 427.1,340.4 427.6,340.5 428.1,338.5 428.6,337.4 429.1,340.8 429.6,340.9 430.1,340.2 430.6,340.3 431.1,340.6 431.6,340.5 432.1,340.5 432.6,340.7 433.1,340.5 433.6,340.3 434.1,340.2 434.6,340.6 435.0,340.5 435.5,340.6 436.0,340.3 436.5,340.6 437.0,340.6 437.5,340.9 438.0,340.2 438.5,340.5 439.0,340.3 439.5,340.7 440.0,340.7 440.5,339.8 441.0,340.2 441.5,339.1" fill="none" stroke="#6a6a6a" stroke-width="0.6" stroke-linejoin="round"/>
<polyline points="386.9,340.5 387.4,340.3 387.9,337.8 388.4,340.6 388.9,340.8 389.4,339.8 389.9,339.5 390.4,340.6 390.9,340.4 391.4,340.2 391.9,340.6 392.4,339.4 392.9,340.3 393.4,340.6 393.8,340.8 394.3,337.6 394.8,339.8 395.3,340.3 395.8,340.2 396.3,340.8 396.8,340.8 397.3,340.7 397.8,340.3 398.3,340.9 398.8,340.8 399.3,340.3 399.8,340.3 400.3,339.3 400.8,340.3 401.3,340.6 401.8,340.8 402.3,340.0 402.8,338.4 403.3,340.4 403.8,340.4 404.3,340.5 404.8,340.9 405.3,340.6 405.8,340.3 406.3,340.3 406.8,340.2 407.3,340.4 407.7,338.9 408.2,340.6 408.7,340.6 409.2,340.0 409.7,340.5 410.2,340.3 410.7,340.3 411.2,340.8 411.7,340.2 412.2,339.5 412.7,336.0 413.2,333.6 413.7,331.8 414.2,329.2 414.7,327.0 415.2,327.2 415.7,329.7 416.2,331.1 416.7,337.2 417.2,339.1 417.7,337.2 418.2,340.2 418.7,340.4 419.2,340.6 419.7,338.4 420.2,340.6 420.7,340.4 421.1,340.6 421.6,340.5 422.1,339.0 422.6,340.4 423.1,340.3 423.6,340.9 424.1,339.8 424.6,340.4 425.1,340.8 425.6,340.1 426.1,340.3 426.6,340.4 427.1,340.2 427.6,339.6 428.1,339.3 428.6,337.8 429.1,340.3 429.6,339.3 430.1,339.4 430.6,340.7 431.1,340.5 431.6,340.9 432.1,340.5 432.6,340.5 433.1,340.6 433.6,340.9 434.1,340.9 434.6,340.5 435.0,339.1 435.5,340.9 436.0,340.8 436.5,340.9 437.0,340.4 437.5,340.9 438.0,340.6 438.5,340.8 439.0,337.3 439.5,340.9 440.0,340.4 440.5,340.9 441.0,340.0 441.5,340.2" fill="none" stroke="#444" stroke-width="0.6" stroke-linejoin="round"/>
<rect x="387.4" y="352.2" width="55.1" height="25.5" fill="none" stroke="#d9d9d9" stroke-width="0.7"/>
<rect x="383.2" y="354.8" width="1.8" height="0.9" fill="#d4d4d4"/>
<rect x="383.2" y="358.7" width="1.8" height="0.9" fill="#d4d4d4"/>
<rect x="383.2" y="362.6" width="1.8" height="0.9" fill="#d4d4d4"/>
<rect x="383.2" y="366.5" width="1.8" height="0.9" fill="#d4d4d4"/>
<rect x="383.2" y="370.4" width="1.8" height="0.9" fill="#d4d4d4"/>
<rect x="383.2" y="374.3" width="1.8" height="0.9" fill="#d4d4d4"/>
<rect x="379.9" y="359.2" width="1.0" height="11.5" fill="#cfcfcf"/>
<rect x="392.4" y="379.7" width="3.2" height="1.0" fill="#d0d0d0"/>
<rect x="402.9" y="379.7" width="3.2" height="1.0" fill="#d0d0d0"/>
<rect x="413.4" y="379.7" width="3.2" height="1.0" fill="#d0d0d0"/>
<rect x="424.0" y="379.7" width="3.2" height="1.0" fill="#d0d0d0"/>
<rect x="434.5" y="379.7" width="3.2" height="1.0" fill="#d0d0d0"/>
<rect x="404.9" y="382.3" width="20" height="1.1" fill="#d6d6d6"/>
<polyline points="390.9,367.9 391.4,367.2 391.8,366.5 392.3,367.3 392.7,367.9 393.2,369.2 393.6,367.7 394.1,367.4 394.5,366.7 395.0,370.7 395.4,369.0 395.9,366.1 396.3,367.7 396.8,368.7 397.2,369.2 397.7,368.3 398.1,365.3 398.6,369.6 399.0,366.5 399.5,369.5 399.9,370.0 400.4,368.4 400.8,367.6 401.3,367.2 401.7,366.2 402.2,367.7 402.6,369.8 403.1,368.1 403.5,369.3 404.0,367.8 404.4,370.0 404.9,366.3 405.3,367.8 405.8,368.8 406.2,368.1 406.7,370.6 407.1,367.6 407.6,366.7 408.0,365.1 408.5,370.7 408.9,367.0 409.4,368.1 409.8,371.5 410.3,366.2 410.7,368.5 411.2,367.2 411.6,371.2 412.1,365.1 412.5,366.8 413.0,365.7 413.4,364.4 413.9,365.5 414.3,367.6 414.8,367.8 415.2,367.7 415.7,367.6 416.2,367.1 416.6,367.9 417.1,371.9 417.5,365.3 418.0,368.2 418.4,367.6 418.9,365.5 419.3,368.0 419.8,367.7 420.2,366.6 420.7,367.4 421.1,367.3 421.6,366.0 422.0,367.7 422.5,367.0 422.9,370.2 423.4,366.8 423.8,364.4 424.3,368.8 424.7,365.5 425.2,366.8 425.6,369.3 426.1,367.9 426.5,363.9 427.0,363.4 427.4,368.2 427.9,366.8 428.3,368.0 428.8,366.6 429.2,367.1 429.7,367.5 430.1,364.8 430.6,364.2 431.0,367.2 431.5,366.8 431.9,370.7 432.4,366.8 432.8,365.2 433.3,367.2 433.7,369.1 434.2,369.1 434.6,368.6 435.1,366.6 435.5,366.4 436.0,364.5 436.4,367.4 436.9,369.1 437.3,368.1 437.8,367.5 438.2,365.8 438.7,366.0 439.1,366.2 439.6,370.7 440.0,366.5 440.5,367.0" fill="none" stroke="#c4c4c4" stroke-width="0.6" stroke-linejoin="round"/>
<polyline points="390.9,368.6 391.4,370.5 391.8,366.6 392.3,367.6 392.7,367.2 393.2,371.4 393.6,366.8 394.1,369.9 394.5,368.6 395.0,367.1 395.4,367.6 395.9,367.7 396.3,372.9 396.8,369.3 397.2,369.1 397.7,367.1 398.1,369.0 398.6,369.6 399.0,369.4 399.5,369.9 399.9,366.5 400.4,366.5 400.8,366.0 401.3,369.8 401.7,366.8 402.2,367.0 402.6,367.5 403.1,369.2 403.5,369.4 404.0,365.5 404.4,369.3 404.9,367.5 405.3,368.6 405.8,371.8 406.2,370.1 406.7,366.6 407.1,366.8 407.6,370.6 408.0,370.4 408.5,370.1 408.9,367.1 409.4,368.7 409.8,367.2 410.3,364.8 410.7,368.3 411.2,367.7 411.6,368.1 412.1,370.6 412.5,368.8 413.0,366.0 413.4,368.8 413.9,363.4 414.3,368.8 414.8,368.3 415.2,367.4 415.7,364.9 416.2,369.4 416.6,367.8 417.1,366.6 417.5,367.3 418.0,370.2 418.4,368.0 418.9,365.9 419.3,366.4 419.8,367.5 420.2,366.4 420.7,367.8 421.1,368.0 421.6,370.0 422.0,368.0 422.5,369.7 422.9,369.4 423.4,368.2 423.8,368.2 424.3,367.5 424.7,367.6 425.2,365.9 425.6,368.3 426.1,360.1 426.5,363.4 427.0,367.0 427.4,365.7 427.9,369.9 428.3,370.0 428.8,367.1 429.2,364.9 429.7,367.5 430.1,369.7 430.6,365.3 431.0,365.7 431.5,366.1 431.9,369.5 432.4,365.9 432.8,367.6 433.3,364.3 433.7,365.7 434.2,368.9 434.6,364.9 435.1,369.7 435.5,368.3 436.0,369.7 436.4,368.0 436.9,367.1 437.3,369.7 437.8,368.3 438.2,365.1 438.7,366.5 439.1,364.4 439.6,364.8 440.0,364.7 440.5,367.8" fill="none" stroke="#9a9a9a" stroke-width="0.6" stroke-linejoin="round"/>
<polyline points="390.9,362.0 391.4,367.6 391.8,370.1 392.3,365.4 392.7,368.5 393.2,363.7 393.6,365.4 394.1,368.5 394.5,369.1 395.0,370.8 395.4,368.0 395.9,367.9 396.3,368.6 396.8,365.6 397.2,367.5 397.7,369.4 398.1,368.7 398.6,368.3 399.0,367.6 399.5,368.8 399.9,367.4 400.4,368.4 400.8,366.2 401.3,369.3 401.7,367.3 402.2,367.4 402.6,367.8 403.1,367.3 403.5,367.1 404.0,368.6 404.4,367.8 404.9,368.7 405.3,368.4 405.8,368.7 406.2,368.2 406.7,367.9 407.1,366.2 407.6,368.6 408.0,367.8 408.5,367.3 408.9,370.1 409.4,372.4 409.8,368.9 410.3,370.5 410.7,368.0 411.2,367.4 411.6,369.7 412.1,368.6 412.5,368.1 413.0,368.6 413.4,368.0 413.9,366.0 414.3,368.9 414.8,366.8 415.2,367.5 415.7,366.6 416.2,366.9 416.6,367.8 417.1,366.2 417.5,368.6 418.0,368.2 418.4,369.4 418.9,369.3 419.3,367.4 419.8,365.0 420.2,367.2 420.7,366.7 421.1,366.8 421.6,372.0 422.0,367.2 422.5,369.3 422.9,369.1 423.4,365.9 423.8,367.3 424.3,366.6 424.7,367.3 425.2,368.4 425.6,365.4 426.1,368.4 426.5,369.3 427.0,367.6 427.4,366.0 427.9,369.6 428.3,365.1 428.8,365.0 429.2,365.2 429.7,365.9 430.1,365.5 430.6,366.1 431.0,370.4 431.5,367.0 431.9,369.6 432.4,365.8 432.8,366.8 433.3,368.8 433.7,367.3 434.2,366.5 434.6,364.7 435.1,365.7 435.5,370.0 436.0,366.1 436.4,366.8 436.9,365.3 437.3,370.9 437.8,364.5 438.2,369.4 438.7,368.2 439.1,365.8 439.6,369.3 440.0,369.6 440.5,370.1" fill="none" stroke="#6a6a6a" stroke-width="0.6" stroke-linejoin="round"/>
<polyline points="390.9,368.7 391.4,367.4 391.8,367.4 392.3,368.7 392.7,366.9 393.2,368.4 393.6,368.5 394.1,367.9 394.5,370.1 395.0,369.9 395.4,366.1 395.9,368.1 396.3,365.9 396.8,369.4 397.2,369.9 397.7,366.9 398.1,364.5 398.6,366.6 399.0,368.8 399.5,368.9 399.9,367.1 400.4,369.7 400.8,368.2 401.3,369.6 401.7,365.4 402.2,367.9 402.6,369.2 403.1,368.2 403.5,363.8 404.0,369.5 404.4,368.8 404.9,369.3 405.3,367.6 405.8,368.5 406.2,367.7 406.7,368.2 407.1,368.3 407.6,368.5 408.0,370.4 408.5,367.2 408.9,366.3 409.4,370.0 409.8,369.1 410.3,368.4 410.7,369.8 411.2,368.1 411.6,367.8 412.1,370.7 412.5,367.4 413.0,369.1 413.4,365.9 413.9,367.4 414.3,368.4 414.8,365.0 415.2,368.4 415.7,368.7 416.2,371.2 416.6,366.8 417.1,362.5 417.5,369.5 418.0,369.6 418.4,371.1 418.9,367.4 419.3,370.5 419.8,366.2 420.2,365.3 420.7,367.5 421.1,367.8 421.6,369.0 422.0,367.9 422.5,365.1 422.9,364.9 423.4,368.0 423.8,365.2 424.3,368.7 424.7,367.4 425.2,370.4 425.6,368.1 426.1,368.6 426.5,361.5 427.0,368.3 427.4,367.6 427.9,367.0 428.3,365.8 428.8,365.0 429.2,367.5 429.7,366.9 430.1,367.9 430.6,369.7 431.0,365.4 431.5,365.3 431.9,363.8 432.4,368.6 432.8,369.4 433.3,368.4 433.7,368.7 434.2,365.6 434.6,364.9 435.1,365.7 435.5,366.4 436.0,368.7 436.4,369.2 436.9,367.5 437.3,369.7 437.8,370.2 438.2,366.6 438.7,369.9 439.1,367.1 439.6,368.1 440.0,370.9 440.5,366.9" fill="none" stroke="#444" stroke-width="0.6" stroke-linejoin="round"/>
<rect x="386.3" y="384.2" width="58.2" height="31.6" fill="none" stroke="#d9d9d9" stroke-width="0.7"/>
<rect x="382.1" y="386.8" width="1.8" height="0.9" fill="#d4d4d4"/>
<rect x="382.1" y="391.9" width="1.8" height="0.9" fill="#d4d4d4"/>
<rect x="382.1" y="397.0" width="1.8" height="0.9" fill="#d4d4d4"/>
<rect x="382.1" y="402.2" width="1.8" height="0.9" fill="#d4d4d4"/>
<rect x="382.1" y="407.3" width="1.8" height="0.9" fill="#d4d4d4"/>
<rect x="382.1" y="412.4" width="1.8" height="0.9" fill="#d4d4d4"/>
<rect x="378.8" y="391.2" width="1.0" height="17.6" fill="#cfcfcf"/>
<rect x="391.3" y="417.8" width="3.2" height="1.0" fill="#d0d0d0"/>
<rect x="402.6" y="417.8" width="3.2" height="1.0" fill="#d0d0d0"/>
<rect x="413.9" y="417.8" width="3.2" height="1.0" fill="#d0d0d0"/>
<rect x="425.2" y="417.8" width="3.2" height="1.0" fill="#d0d0d0"/>
<rect x="436.5" y="417.8" width="3.2" height="1.0" fill="#d0d0d0"/>
<rect x="405.4" y="420.4" width="20" height="1.1" fill="#d6d6d6"/>
<polyline points="388.3,412.0 388.8,411.7 389.3,411.7 389.8,412.4 390.3,412.1 390.8,412.9 391.3,412.7 391.7,412.2 392.2,412.7 392.7,411.6 393.2,412.7 393.7,412.8 394.2,412.8 394.7,411.6 395.2,412.6 395.7,411.6 396.2,411.4 396.7,411.8 397.2,411.4 397.7,411.4 398.2,412.3 398.6,412.5 399.1,412.6 399.6,411.8 400.1,411.6 400.6,412.1 401.1,411.8 401.6,411.8 402.1,412.3 402.6,412.3 403.1,411.0 403.6,411.0 404.1,411.2 404.6,411.9 405.1,410.4 405.5,410.5 406.0,409.9 406.5,410.7 407.0,409.8 407.5,409.6 408.0,408.9 408.5,408.6 409.0,409.1 409.5,407.4 410.0,406.9 410.5,406.8 411.0,406.3 411.5,405.6 412.0,402.3 412.4,403.0 412.9,399.2 413.4,398.6 413.9,394.9 414.4,393.0 414.9,390.3 415.4,387.4 415.9,388.7 416.4,391.4 416.9,394.8 417.4,399.0 417.9,400.2 418.4,402.2 418.8,402.1 419.3,404.1 419.8,405.3 420.3,406.9 420.8,408.0 421.3,407.4 421.8,408.2 422.3,409.4 422.8,410.0 423.3,409.2 423.8,409.8 424.3,410.1 424.8,410.3 425.3,410.6 425.7,411.1 426.2,410.9 426.7,410.7 427.2,411.3 427.7,411.5 428.2,411.4 428.7,411.2 429.2,411.3 429.7,411.6 430.2,411.3 430.7,411.4 431.2,411.6 431.7,411.3 432.2,412.0 432.6,411.5 433.1,412.1 433.6,411.8 434.1,412.6 434.6,412.0 435.1,412.3 435.6,411.8 436.1,411.9 436.6,412.7 437.1,412.0 437.6,412.0 438.1,412.9 438.6,412.7 439.1,412.8 439.5,412.8 440.0,413.0 440.5,412.5 441.0,412.2 441.5,411.7 442.0,412.5 442.5,412.5" fill="none" stroke="#c4c4c4" stroke-width="0.6" stroke-linejoin="round"/>
<polyline points="388.3,411.8 388.8,413.0 389.3,412.9 389.8,412.6 390.3,411.6 390.8,412.4 391.3,412.1 391.7,412.8 392.2,412.2 392.7,411.5 393.2,412.5 393.7,413.0 394.2,412.1 394.7,412.7 395.2,411.6 395.7,412.3 396.2,412.5 396.7,412.3 397.2,411.5 397.7,412.4 398.2,412.0 398.6,412.3 399.1,412.0 399.6,412.0 400.1,411.7 400.6,412.2 401.1,411.3 401.6,411.7 402.1,411.1 402.6,412.0 403.1,412.1 403.6,411.7 404.1,411.4 404.6,411.1 405.1,411.7 405.5,411.2 406.0,411.0 406.5,410.6 407.0,410.6 407.5,409.9 408.0,410.3 408.5,408.7 409.0,408.7 409.5,408.2 410.0,407.7 410.5,406.7 411.0,405.7 411.5,405.6 412.0,404.2 412.4,402.6 412.9,401.4 413.4,399.1 413.9,397.2 414.4,394.0 414.9,391.6 415.4,388.3 415.9,392.5 416.4,394.4 416.9,397.3 417.4,398.5 417.9,401.7 418.4,401.4 418.8,404.6 419.3,405.4 419.8,405.5 420.3,407.5 420.8,407.3 421.3,408.4 421.8,409.5 422.3,410.0 422.8,410.0 423.3,410.8 423.8,410.0 424.3,411.1 424.8,411.1 425.3,411.0 425.7,411.3 426.2,411.0 426.7,411.2 427.2,410.8 427.7,411.4 428.2,411.6 428.7,411.3 429.2,412.3 429.7,412.0 430.2,412.3 430.7,411.7 431.2,411.7 431.7,412.6 432.2,412.4 432.6,412.1 433.1,411.6 433.6,411.8 434.1,412.6 434.6,411.9 435.1,412.7 435.6,411.9 436.1,412.7 436.6,412.4 437.1,412.5 437.6,412.5 438.1,412.8 438.6,412.0 439.1,412.4 439.5,412.3 440.0,412.2 440.5,412.5 441.0,413.0 441.5,413.0 442.0,412.4 442.5,413.1" fill="none" stroke="#9a9a9a" stroke-width="0.6" stroke-linejoin="round"/>
<polyline points="388.3,411.8 388.8,412.4 389.3,412.9 389.8,412.8 390.3,412.5 390.8,412.8 391.3,412.6 391.7,412.6 392.2,412.3 392.7,411.6 393.2,411.6 393.7,412.0 394.2,411.5 394.7,411.9 395.2,411.9 395.7,412.7 396.2,412.9 396.7,412.8 397.2,411.4 397.7,412.4 398.2,412.4 398.6,411.7 399.1,412.4 399.6,411.3 400.1,412.0 400.6,412.6 401.1,411.4 401.6,412.5 402.1,411.0 402.6,411.9 403.1,412.3 403.6,411.5 404.1,412.1 404.6,412.0 405.1,411.9 405.5,411.2 406.0,411.6 406.5,410.1 407.0,410.6 407.5,410.3 408.0,410.4 408.5,409.7 409.0,409.0 409.5,409.1 410.0,408.5 410.5,407.6 411.0,406.9 411.5,405.3 412.0,405.4 412.4,404.0 412.9,403.4 413.4,401.2 413.9,398.7 414.4,398.3 414.9,395.5 415.4,391.2 415.9,395.5 416.4,397.0 416.9,400.0 417.4,401.8 417.9,403.0 418.4,403.6 418.8,404.5 419.3,405.8 419.8,406.5 420.3,406.9 420.8,407.9 421.3,408.5 421.8,409.9 422.3,410.3 422.8,409.8 423.3,411.0 423.8,410.4 424.3,411.5 424.8,411.2 425.3,410.4 425.7,411.6 426.2,411.5 426.7,412.2 427.2,411.0 427.7,412.2 428.2,412.2 428.7,411.8 429.2,411.3 429.7,412.1 430.2,411.9 430.7,412.0 431.2,411.3 431.7,411.3 432.2,412.6 432.6,412.2 433.1,411.4 433.6,412.0 434.1,411.5 434.6,412.6 435.1,412.6 435.6,412.4 436.1,412.6 436.6,412.6 437.1,411.7 437.6,412.1 438.1,412.8 438.6,412.3 439.1,412.8 439.5,412.0 440.0,412.8 440.5,412.6 441.0,411.8 441.5,411.9 442.0,413.1 442.5,412.2" fill="none" stroke="#6a6a6a" stroke-width="0.6" stroke-linejoin="round"/>
<polyline points="388.3,412.5 388.8,413.1 389.3,412.5 389.8,412.0 390.3,411.6 390.8,411.7 391.3,412.0 391.7,411.8 392.2,412.1 392.7,412.2 393.2,412.9 393.7,412.4 394.2,411.8 394.7,412.5 395.2,412.5 395.7,412.8 396.2,411.9 396.7,411.5 397.2,411.6 397.7,411.9 398.2,412.0 398.6,412.4 399.1,411.9 399.6,412.7 400.1,412.4 400.6,411.3 401.1,411.7 401.6,412.4 402.1,411.7 402.6,411.9 403.1,412.1 403.6,411.9 404.1,410.9 404.6,411.2 405.1,411.7 405.5,411.1 406.0,410.4 406.5,410.9 407.0,410.6 407.5,410.6 408.0,410.1 408.5,410.2 409.0,410.3 409.5,408.9 410.0,409.3 410.5,407.8 411.0,407.0 411.5,407.0 412.0,404.8 412.4,404.4 412.9,402.6 413.4,402.1 413.9,399.7 414.4,399.6 414.9,397.4 415.4,394.0 415.9,396.5 416.4,397.3 416.9,399.4 417.4,400.7 417.9,402.6 418.4,405.7 418.8,406.6 419.3,406.8 419.8,406.9 420.3,408.5 420.8,408.8 421.3,409.1 421.8,409.3 422.3,409.2 422.8,410.7 423.3,410.0 423.8,411.3 424.3,411.1 424.8,410.3 425.3,411.5 425.7,411.0 426.2,411.3 426.7,411.7 427.2,411.5 427.7,411.8 428.2,411.5 428.7,412.1 429.2,411.9 429.7,411.8 430.2,411.2 430.7,412.2 431.2,412.7 431.7,412.2 432.2,412.4 432.6,412.2 433.1,412.8 433.6,411.4 434.1,412.2 434.6,412.5 435.1,411.9 435.6,412.9 436.1,411.8 436.6,412.1 437.1,412.0 437.6,412.9 438.1,411.8 438.6,411.7 439.1,411.7 439.5,411.5 440.0,411.7 440.5,411.9 441.0,411.6 441.5,412.8 442.0,412.7 442.5,412.7" fill="none" stroke="#444" stroke-width="0.6" stroke-linejoin="round"/>
<line x1="258.0" y1="246.2" x2="259.5" y2="246.2" stroke="#bbb" stroke-width="0.6"/>
<line x1="258.0" y1="252.3" x2="259.5" y2="252.3" stroke="#bbb" stroke-width="0.6"/>
<line x1="258.0" y1="258.4" x2="259.5" y2="258.4" stroke="#bbb" stroke-width="0.6"/>
<line x1="258.0" y1="264.6" x2="259.5" y2="264.6" stroke="#bbb" stroke-width="0.6"/>
<line x1="258.0" y1="270.8" x2="259.5" y2="270.8" stroke="#bbb" stroke-width="0.6"/>
<rect x="256.6" y="256.8" width="2.0" height="2.6" rx="0.6" fill="#dcdcdc"/>
<use href="#gT" transform="translate(272.85,269.30) scale(5.100,0.800)"/>
<use href="#gC" transform="translate(272.85,268.10) scale(5.100,1.200)"/>
<use href="#gA" transform="translate(272.85,262.80) scale(5.100,5.300)"/>
<use href="#gT" transform="translate(278.05,269.50) scale(5.100,0.600)"/>
<use href="#gG" transform="translate(278.05,253.30) scale(5.100,16.200)"/>
<use href="#gC" transform="translate(283.45,246.80) scale(5.100,23.300)"/>
<use href="#gC" transform="translate(288.45,246.80) scale(5.100,23.300)"/>
<use href="#gC" transform="translate(293.65,269.50) scale(5.100,0.600)"/>
<use href="#gT" transform="translate(293.65,266.10) scale(5.100,3.400)"/>
<use href="#gG" transform="translate(293.65,262.10) scale(5.100,4.000)"/>
<use href="#gT" transform="translate(298.75,269.60) scale(5.100,0.500)"/>
<use href="#gC" transform="translate(298.75,249.60) scale(5.100,20.000)"/>
<use href="#gG" transform="translate(303.95,269.50) scale(5.100,0.600)"/>
<use href="#gA" transform="translate(303.95,266.00) scale(5.100,3.500)"/>
<use href="#gG" transform="translate(268.05,269.40) scale(5.100,0.700)"/>
<use href="#gC" transform="translate(268.05,268.90) scale(5.100,0.500)"/>
<use href="#gT" transform="translate(262.85,269.60) scale(5.100,0.500)"/>
<line x1="275.4" y1="272.3" x2="275.4" y2="273.0" stroke="#ccc" stroke-width="0.6"/>
<line x1="280.6" y1="272.3" x2="280.6" y2="273.0" stroke="#ccc" stroke-width="0.6"/>
<line x1="286.0" y1="272.3" x2="286.0" y2="273.0" stroke="#ccc" stroke-width="0.6"/>
<line x1="291.0" y1="272.3" x2="291.0" y2="273.0" stroke="#ccc" stroke-width="0.6"/>
<line x1="296.2" y1="272.3" x2="296.2" y2="273.0" stroke="#ccc" stroke-width="0.6"/>
<line x1="301.3" y1="272.3" x2="301.3" y2="273.0" stroke="#ccc" stroke-width="0.6"/>
<line x1="306.5" y1="272.3" x2="306.5" y2="273.0" stroke="#ccc" stroke-width="0.6"/>
<line x1="270.6" y1="272.3" x2="270.6" y2="273.0" stroke="#ccc" stroke-width="0.6"/>
<line x1="265.4" y1="272.3" x2="265.4" y2="273.0" stroke="#ccc" stroke-width="0.6"/>
<line x1="254.9" y1="285.5" x2="256.4" y2="285.5" stroke="#bbb" stroke-width="0.6"/>
<line x1="254.9" y1="292.3" x2="256.4" y2="292.3" stroke="#bbb" stroke-width="0.6"/>
<line x1="254.9" y1="299.2" x2="256.4" y2="299.2" stroke="#bbb" stroke-width="0.6"/>
<line x1="254.9" y1="306.0" x2="256.4" y2="306.0" stroke="#bbb" stroke-width="0.6"/>
<line x1="254.9" y1="312.8" x2="256.4" y2="312.8" stroke="#bbb" stroke-width="0.6"/>
<rect x="253.5" y="297.6" width="2.0" height="2.6" rx="0.6" fill="#dcdcdc"/>
<use href="#gA" transform="translate(262.75,310.90) scale(3.100,1.500)"/>
<use href="#gT" transform="translate(262.75,296.40) scale(3.100,14.500)"/>
<use href="#gA" transform="translate(265.95,311.80) scale(3.100,0.600)"/>
<use href="#gT" transform="translate(265.95,289.80) scale(3.100,22.000)"/>
<use href="#gA" transform="translate(269.15,310.60) scale(3.100,1.800)"/>
<use href="#gT" transform="translate(269.15,297.90) scale(3.100,12.700)"/>
<use href="#gC" transform="translate(272.25,287.00) scale(3.100,25.400)"/>
<use href="#gT" transform="translate(275.35,308.40) scale(3.100,4.000)"/>
<use href="#gC" transform="translate(275.35,297.40) scale(3.100,11.000)"/>
<use href="#gA" transform="translate(278.45,310.90) scale(3.100,1.500)"/>
<use href="#gT" transform="translate(278.45,306.40) scale(3.100,4.500)"/>
<use href="#gA" transform="translate(281.45,310.90) scale(3.100,1.500)"/>
<use href="#gT" transform="translate(281.45,305.90) scale(3.100,5.000)"/>
<use href="#gA" transform="translate(284.45,309.90) scale(3.100,2.500)"/>
<use href="#gT" transform="translate(284.45,297.90) scale(3.100,12.000)"/>
<use href="#gT" transform="translate(287.45,288.40) scale(3.100,24.000)"/>
<use href="#gA" transform="translate(290.65,310.40) scale(3.100,2.000)"/>
<use href="#gT" transform="translate(290.65,301.90) scale(3.100,8.500)"/>
<use href="#gT" transform="translate(293.55,310.40) scale(3.100,2.000)"/>
<use href="#gA" transform="translate(296.75,309.90) scale(3.100,2.500)"/>
<use href="#gG" transform="translate(296.75,296.40) scale(3.100,13.500)"/>
<use href="#gG" transform="translate(299.75,288.00) scale(3.100,24.400)"/>
<use href="#gT" transform="translate(302.95,309.90) scale(3.100,2.500)"/>
<use href="#gA" transform="translate(302.95,304.90) scale(3.100,5.000)"/>
<use href="#gT" transform="translate(305.85,310.40) scale(3.100,2.000)"/>
<use href="#gA" transform="translate(305.85,293.40) scale(3.100,17.000)"/>
<use href="#gT" transform="translate(309.05,309.90) scale(3.100,2.500)"/>
<use href="#gA" transform="translate(309.05,298.90) scale(3.100,11.000)"/>
<use href="#gA" transform="translate(315.35,310.90) scale(3.100,1.500)"/>
<use href="#gT" transform="translate(315.35,307.90) scale(3.100,3.000)"/>
<line x1="264.3" y1="314.6" x2="264.3" y2="315.3" stroke="#ccc" stroke-width="0.6"/>
<line x1="267.5" y1="314.6" x2="267.5" y2="315.3" stroke="#ccc" stroke-width="0.6"/>
<line x1="270.7" y1="314.6" x2="270.7" y2="315.3" stroke="#ccc" stroke-width="0.6"/>
<line x1="273.8" y1="314.6" x2="273.8" y2="315.3" stroke="#ccc" stroke-width="0.6"/>
<line x1="276.9" y1="314.6" x2="276.9" y2="315.3" stroke="#ccc" stroke-width="0.6"/>
<line x1="280.0" y1="314.6" x2="280.0" y2="315.3" stroke="#ccc" stroke-width="0.6"/>
<line x1="283.0" y1="314.6" x2="283.0" y2="315.3" stroke="#ccc" stroke-width="0.6"/>
<line x1="286.0" y1="314.6" x2="286.0" y2="315.3" stroke="#ccc" stroke-width="0.6"/>
<line x1="289.0" y1="314.6" x2="289.0" y2="315.3" stroke="#ccc" stroke-width="0.6"/>
<line x1="292.2" y1="314.6" x2="292.2" y2="315.3" stroke="#ccc" stroke-width="0.6"/>
<line x1="295.1" y1="314.6" x2="295.1" y2="315.3" stroke="#ccc" stroke-width="0.6"/>
<line x1="298.3" y1="314.6" x2="298.3" y2="315.3" stroke="#ccc" stroke-width="0.6"/>
<line x1="301.3" y1="314.6" x2="301.3" y2="315.3" stroke="#ccc" stroke-width="0.6"/>
<line x1="304.5" y1="314.6" x2="304.5" y2="315.3" stroke="#ccc" stroke-width="0.6"/>
<line x1="307.4" y1="314.6" x2="307.4" y2="315.3" stroke="#ccc" stroke-width="0.6"/>
<line x1="310.6" y1="314.6" x2="310.6" y2="315.3" stroke="#ccc" stroke-width="0.6"/>
<line x1="316.9" y1="314.6" x2="316.9" y2="315.3" stroke="#ccc" stroke-width="0.6"/>
<line x1="255.8" y1="326.8" x2="257.3" y2="326.8" stroke="#bbb" stroke-width="0.6"/>
<line x1="255.8" y1="333.3" x2="257.3" y2="333.3" stroke="#bbb" stroke-width="0.6"/>
<line x1="255.8" y1="339.4" x2="257.3" y2="339.4" stroke="#bbb" stroke-width="0.6"/>
<line x1="255.8" y1="345.5" x2="257.3" y2="345.5" stroke="#bbb" stroke-width="0.6"/>
<line x1="255.8" y1="351.5" x2="257.3" y2="351.5" stroke="#bbb" stroke-width="0.6"/>
<rect x="254.4" y="337.8" width="2.0" height="2.6" rx="0.6" fill="#dcdcdc"/>
<use href="#gC" transform="translate(260.35,348.40) scale(6.300,3.300)"/>
<use href="#gT" transform="translate(260.35,340.20) scale(6.300,8.200)"/>
<use href="#gA" transform="translate(267.05,327.10) scale(6.300,24.600)"/>
<use href="#gA" transform="translate(273.15,327.10) scale(6.300,24.600)"/>
<use href="#gT" transform="translate(279.75,326.80) scale(6.300,24.900)"/>
<use href="#gG" transform="translate(286.25,350.70) scale(6.300,1.000)"/>
<use href="#gC" transform="translate(286.25,347.70) scale(6.300,3.000)"/>
<use href="#gA" transform="translate(286.25,343.70) scale(6.300,4.000)"/>
<use href="#gA" transform="translate(292.85,327.00) scale(6.300,24.700)"/>
<use href="#gT" transform="translate(299.25,327.00) scale(6.300,24.700)"/>
<use href="#gA" transform="translate(305.65,350.20) scale(6.300,1.500)"/>
<use href="#gG" transform="translate(305.65,348.70) scale(6.300,1.500)"/>
<use href="#gT" transform="translate(305.65,335.50) scale(6.300,13.200)"/>
<line x1="263.5" y1="353.9" x2="263.5" y2="354.6" stroke="#ccc" stroke-width="0.6"/>
<line x1="270.2" y1="353.9" x2="270.2" y2="354.6" stroke="#ccc" stroke-width="0.6"/>
<line x1="276.3" y1="353.9" x2="276.3" y2="354.6" stroke="#ccc" stroke-width="0.6"/>
<line x1="282.9" y1="353.9" x2="282.9" y2="354.6" stroke="#ccc" stroke-width="0.6"/>
<line x1="289.4" y1="353.9" x2="289.4" y2="354.6" stroke="#ccc" stroke-width="0.6"/>
<line x1="296.0" y1="353.9" x2="296.0" y2="354.6" stroke="#ccc" stroke-width="0.6"/>
<line x1="302.4" y1="353.9" x2="302.4" y2="354.6" stroke="#ccc" stroke-width="0.6"/>
<line x1="308.8" y1="353.9" x2="308.8" y2="354.6" stroke="#ccc" stroke-width="0.6"/>
<line x1="258.2" y1="357.7" x2="259.7" y2="357.7" stroke="#bbb" stroke-width="0.6"/>
<line x1="258.2" y1="364.0" x2="259.7" y2="364.0" stroke="#bbb" stroke-width="0.6"/>
<line x1="258.2" y1="370.1" x2="259.7" y2="370.1" stroke="#bbb" stroke-width="0.6"/>
<line x1="258.2" y1="376.1" x2="259.7" y2="376.1" stroke="#bbb" stroke-width="0.6"/>
<line x1="258.2" y1="382.1" x2="259.7" y2="382.1" stroke="#bbb" stroke-width="0.6"/>
<rect x="256.8" y="368.5" width="2.0" height="2.6" rx="0.6" fill="#dcdcdc"/>
<use href="#gC" transform="translate(262.30,377.00) scale(4.400,4.500)"/>
<use href="#gA" transform="translate(266.70,380.50) scale(4.400,1.000)"/>
<use href="#gC" transform="translate(266.70,372.90) scale(4.400,7.600)"/>
<use href="#gT" transform="translate(271.10,381.00) scale(4.400,0.500)"/>
<use href="#gG" transform="translate(271.10,363.80) scale(4.400,17.200)"/>
<use href="#gC" transform="translate(275.50,359.70) scale(4.400,21.800)"/>
<use href="#gC" transform="translate(279.90,359.70) scale(4.400,21.800)"/>
<use href="#gA" transform="translate(284.30,381.00) scale(4.400,0.500)"/>
<use href="#gG" transform="translate(284.30,363.80) scale(4.400,17.200)"/>
<use href="#gT" transform="translate(288.30,380.90) scale(4.400,0.600)"/>
<use href="#gC" transform="translate(288.30,362.10) scale(4.400,18.800)"/>
<use href="#gC" transform="translate(292.80,362.10) scale(4.400,19.400)"/>
<use href="#gG" transform="translate(296.80,377.30) scale(4.400,4.200)"/>
<use href="#gA" transform="translate(296.80,373.10) scale(4.400,4.200)"/>
<use href="#gT" transform="translate(301.20,380.90) scale(4.400,0.600)"/>
<use href="#gC" transform="translate(301.20,366.50) scale(4.400,14.400)"/>
<use href="#gT" transform="translate(305.60,381.00) scale(4.400,0.500)"/>
<use href="#gC" transform="translate(305.60,378.50) scale(4.400,2.500)"/>
<use href="#gG" transform="translate(310.00,380.50) scale(4.400,1.000)"/>
<line x1="264.5" y1="383.7" x2="264.5" y2="384.4" stroke="#ccc" stroke-width="0.6"/>
<line x1="268.9" y1="383.7" x2="268.9" y2="384.4" stroke="#ccc" stroke-width="0.6"/>
<line x1="273.3" y1="383.7" x2="273.3" y2="384.4" stroke="#ccc" stroke-width="0.6"/>
<line x1="277.7" y1="383.7" x2="277.7" y2="384.4" stroke="#ccc" stroke-width="0.6"/>
<line x1="282.1" y1="383.7" x2="282.1" y2="384.4" stroke="#ccc" stroke-width="0.6"/>
<line x1="286.5" y1="383.7" x2="286.5" y2="384.4" stroke="#ccc" stroke-width="0.6"/>
<line x1="290.5" y1="383.7" x2="290.5" y2="384.4" stroke="#ccc" stroke-width="0.6"/>
<line x1="295.0" y1="383.7" x2="295.0" y2="384.4" stroke="#ccc" stroke-width="0.6"/>
<line x1="299.0" y1="383.7" x2="299.0" y2="384.4" stroke="#ccc" stroke-width="0.6"/>
<line x1="303.4" y1="383.7" x2="303.4" y2="384.4" stroke="#ccc" stroke-width="0.6"/>
<line x1="307.8" y1="383.7" x2="307.8" y2="384.4" stroke="#ccc" stroke-width="0.6"/>
<line x1="312.2" y1="383.7" x2="312.2" y2="384.4" stroke="#ccc" stroke-width="0.6"/>
<line x1="255.8" y1="388.0" x2="257.3" y2="388.0" stroke="#bbb" stroke-width="0.6"/>
<line x1="255.8" y1="394.5" x2="257.3" y2="394.5" stroke="#bbb" stroke-width="0.6"/>
<line x1="255.8" y1="400.3" x2="257.3" y2="400.3" stroke="#bbb" stroke-width="0.6"/>
<line x1="255.8" y1="406.6" x2="257.3" y2="406.6" stroke="#bbb" stroke-width="0.6"/>
<line x1="255.8" y1="412.4" x2="257.3" y2="412.4" stroke="#bbb" stroke-width="0.6"/>
<rect x="254.4" y="398.7" width="2.0" height="2.6" rx="0.6" fill="#dcdcdc"/>
<use href="#gT" transform="translate(272.30,409.80) scale(4.000,2.000)"/>
<use href="#gA" transform="translate(272.30,396.80) scale(4.000,13.000)"/>
<use href="#gG" transform="translate(276.40,390.40) scale(4.000,21.400)"/>
<use href="#gA" transform="translate(280.10,391.10) scale(4.000,20.700)"/>
<use href="#gT" transform="translate(284.10,391.80) scale(4.000,20.000)"/>
<use href="#gT" transform="translate(288.20,410.80) scale(4.000,1.000)"/>
<use href="#gA" transform="translate(288.20,392.40) scale(4.000,18.400)"/>
<use href="#gA" transform="translate(292.30,392.40) scale(4.000,19.400)"/>
<use href="#gC" transform="translate(296.30,409.30) scale(4.000,2.500)"/>
<use href="#gG" transform="translate(296.30,398.90) scale(4.000,10.400)"/>
<use href="#gG" transform="translate(300.10,410.30) scale(4.000,1.500)"/>
<use href="#gC" transform="translate(300.10,409.30) scale(4.000,1.000)"/>
<use href="#gA" transform="translate(300.10,404.50) scale(4.000,4.800)"/>
<line x1="274.3" y1="414.0" x2="274.3" y2="414.7" stroke="#ccc" stroke-width="0.6"/>
<line x1="278.4" y1="414.0" x2="278.4" y2="414.7" stroke="#ccc" stroke-width="0.6"/>
<line x1="282.1" y1="414.0" x2="282.1" y2="414.7" stroke="#ccc" stroke-width="0.6"/>
<line x1="286.1" y1="414.0" x2="286.1" y2="414.7" stroke="#ccc" stroke-width="0.6"/>
<line x1="290.2" y1="414.0" x2="290.2" y2="414.7" stroke="#ccc" stroke-width="0.6"/>
<line x1="294.3" y1="414.0" x2="294.3" y2="414.7" stroke="#ccc" stroke-width="0.6"/>
<line x1="298.3" y1="414.0" x2="298.3" y2="414.7" stroke="#ccc" stroke-width="0.6"/>
<line x1="302.1" y1="414.0" x2="302.1" y2="414.7" stroke="#ccc" stroke-width="0.6"/>
<line x1="583.2" y1="116.0" x2="584.7" y2="116.0" stroke="#bbb" stroke-width="0.6"/>
<line x1="583.2" y1="124.3" x2="584.7" y2="124.3" stroke="#bbb" stroke-width="0.6"/>
<line x1="583.2" y1="132.6" x2="584.7" y2="132.6" stroke="#bbb" stroke-width="0.6"/>
<line x1="583.2" y1="141.0" x2="584.7" y2="141.0" stroke="#bbb" stroke-width="0.6"/>
<line x1="583.2" y1="149.4" x2="584.7" y2="149.4" stroke="#bbb" stroke-width="0.6"/>
<rect x="581.8" y="131.0" width="2.0" height="2.6" rx="0.6" fill="#dcdcdc"/>
<use href="#gT" transform="translate(604.90,146.50) scale(5.200,1.000)"/>
<use href="#gA" transform="translate(604.90,145.50) scale(5.200,1.000)"/>
<use href="#gA" transform="translate(610.50,146.00) scale(5.200,1.500)"/>
<use href="#gT" transform="translate(610.50,144.50) scale(5.200,1.500)"/>
<use href="#gC" transform="translate(616.20,146.00) scale(5.200,1.500)"/>
<use href="#gA" transform="translate(616.20,138.00) scale(5.200,8.000)"/>
<use href="#gT" transform="translate(621.80,146.50) scale(5.200,1.000)"/>
<use href="#gC" transform="translate(621.80,139.00) scale(5.200,7.500)"/>
<use href="#gT" transform="translate(626.80,146.50) scale(5.200,1.000)"/>
<use href="#gA" transform="translate(626.80,130.60) scale(5.200,15.900)"/>
<use href="#gA" transform="translate(632.40,146.70) scale(5.200,0.800)"/>
<use href="#gG" transform="translate(632.40,139.40) scale(5.200,7.300)"/>
<use href="#gA" transform="translate(638.00,146.50) scale(5.200,1.000)"/>
<use href="#gC" transform="translate(638.00,140.00) scale(5.200,6.500)"/>
<use href="#gA" transform="translate(643.00,146.30) scale(5.200,1.200)"/>
<use href="#gT" transform="translate(643.00,134.40) scale(5.200,11.900)"/>
<use href="#gA" transform="translate(648.70,146.00) scale(5.200,1.500)"/>
<use href="#gG" transform="translate(648.70,143.00) scale(5.200,3.000)"/>
<use href="#gT" transform="translate(594.30,146.90) scale(5.200,0.600)"/>
<use href="#gT" transform="translate(599.90,146.90) scale(5.200,0.600)"/>
<line x1="607.5" y1="149.7" x2="607.5" y2="150.4" stroke="#ccc" stroke-width="0.6"/>
<line x1="613.1" y1="149.7" x2="613.1" y2="150.4" stroke="#ccc" stroke-width="0.6"/>
<line x1="618.8" y1="149.7" x2="618.8" y2="150.4" stroke="#ccc" stroke-width="0.6"/>
<line x1="624.4" y1="149.7" x2="624.4" y2="150.4" stroke="#ccc" stroke-width="0.6"/>
<line x1="629.4" y1="149.7" x2="629.4" y2="150.4" stroke="#ccc" stroke-width="0.6"/>
<line x1="635.0" y1="149.7" x2="635.0" y2="150.4" stroke="#ccc" stroke-width="0.6"/>
<line x1="640.6" y1="149.7" x2="640.6" y2="150.4" stroke="#ccc" stroke-width="0.6"/>
<line x1="645.6" y1="149.7" x2="645.6" y2="150.4" stroke="#ccc" stroke-width="0.6"/>
<line x1="651.3" y1="149.7" x2="651.3" y2="150.4" stroke="#ccc" stroke-width="0.6"/>
<line x1="596.9" y1="149.7" x2="596.9" y2="150.4" stroke="#ccc" stroke-width="0.6"/>
<line x1="602.5" y1="149.7" x2="602.5" y2="150.4" stroke="#ccc" stroke-width="0.6"/>
<line x1="582.6" y1="171.3" x2="584.1" y2="171.3" stroke="#bbb" stroke-width="0.6"/>
<line x1="582.6" y1="179.6" x2="584.1" y2="179.6" stroke="#bbb" stroke-width="0.6"/>
<line x1="582.6" y1="187.9" x2="584.1" y2="187.9" stroke="#bbb" stroke-width="0.6"/>
<line x1="582.6" y1="196.1" x2="584.1" y2="196.1" stroke="#bbb" stroke-width="0.6"/>
<line x1="582.6" y1="204.4" x2="584.1" y2="204.4" stroke="#bbb" stroke-width="0.6"/>
<rect x="581.2" y="186.3" width="2.0" height="2.6" rx="0.6" fill="#dcdcdc"/>
<use href="#gC" transform="translate(587.80,201.00) scale(5.600,3.000)"/>
<use href="#gT" transform="translate(587.80,193.80) scale(5.600,7.200)"/>
<use href="#gG" transform="translate(594.10,176.30) scale(5.600,27.700)"/>
<use href="#gA" transform="translate(599.70,200.50) scale(5.600,3.500)"/>
<use href="#gC" transform="translate(599.70,185.00) scale(5.600,15.500)"/>
<use href="#gC" transform="translate(606.00,173.80) scale(5.600,30.200)"/>
<use href="#gA" transform="translate(611.60,173.80) scale(5.600,30.200)"/>
<use href="#gC" transform="translate(617.20,171.90) scale(5.600,32.100)"/>
<use href="#gG" transform="translate(623.50,171.90) scale(5.600,32.100)"/>
<use href="#gT" transform="translate(629.10,172.50) scale(5.600,31.500)"/>
<use href="#gC" transform="translate(634.70,173.80) scale(5.600,30.200)"/>
<use href="#gA" transform="translate(641.00,174.40) scale(5.600,29.600)"/>
<use href="#gA" transform="translate(646.60,203.00) scale(5.600,1.000)"/>
<use href="#gT" transform="translate(646.60,200.00) scale(5.600,3.000)"/>
<use href="#gC" transform="translate(646.60,196.00) scale(5.600,4.000)"/>
<use href="#gC" transform="translate(652.80,200.00) scale(5.600,4.000)"/>
<line x1="590.6" y1="206.2" x2="590.6" y2="206.9" stroke="#ccc" stroke-width="0.6"/>
<line x1="596.9" y1="206.2" x2="596.9" y2="206.9" stroke="#ccc" stroke-width="0.6"/>
<line x1="602.5" y1="206.2" x2="602.5" y2="206.9" stroke="#ccc" stroke-width="0.6"/>
<line x1="608.8" y1="206.2" x2="608.8" y2="206.9" stroke="#ccc" stroke-width="0.6"/>
<line x1="614.4" y1="206.2" x2="614.4" y2="206.9" stroke="#ccc" stroke-width="0.6"/>
<line x1="620.0" y1="206.2" x2="620.0" y2="206.9" stroke="#ccc" stroke-width="0.6"/>
<line x1="626.3" y1="206.2" x2="626.3" y2="206.9" stroke="#ccc" stroke-width="0.6"/>
<line x1="631.9" y1="206.2" x2="631.9" y2="206.9" stroke="#ccc" stroke-width="0.6"/>
<line x1="637.5" y1="206.2" x2="637.5" y2="206.9" stroke="#ccc" stroke-width="0.6"/>
<line x1="643.8" y1="206.2" x2="643.8" y2="206.9" stroke="#ccc" stroke-width="0.6"/>
<line x1="649.4" y1="206.2" x2="649.4" y2="206.9" stroke="#ccc" stroke-width="0.6"/>
<line x1="655.6" y1="206.2" x2="655.6" y2="206.9" stroke="#ccc" stroke-width="0.6"/>
<line x1="582.6" y1="226.3" x2="584.1" y2="226.3" stroke="#bbb" stroke-width="0.6"/>
<line x1="582.6" y1="234.6" x2="584.1" y2="234.6" stroke="#bbb" stroke-width="0.6"/>
<line x1="582.6" y1="242.9" x2="584.1" y2="242.9" stroke="#bbb" stroke-width="0.6"/>
<line x1="582.6" y1="251.1" x2="584.1" y2="251.1" stroke="#bbb" stroke-width="0.6"/>
<line x1="582.6" y1="259.4" x2="584.1" y2="259.4" stroke="#bbb" stroke-width="0.6"/>
<rect x="581.2" y="241.3" width="2.0" height="2.6" rx="0.6" fill="#dcdcdc"/>
<use href="#gA" transform="translate(592.60,256.95) scale(3.600,1.848)"/>
<use href="#gT" transform="translate(592.60,239.08) scale(3.600,17.868)"/>
<use href="#gA" transform="translate(596.40,258.06) scale(3.600,0.739)"/>
<use href="#gT" transform="translate(596.40,230.95) scale(3.600,27.110)"/>
<use href="#gA" transform="translate(600.20,256.58) scale(3.600,2.218)"/>
<use href="#gT" transform="translate(600.20,240.93) scale(3.600,15.650)"/>
<use href="#gC" transform="translate(603.88,227.50) scale(3.600,31.300)"/>
<use href="#gT" transform="translate(607.56,253.87) scale(3.600,4.929)"/>
<use href="#gC" transform="translate(607.56,240.32) scale(3.600,13.555)"/>
<use href="#gA" transform="translate(611.24,256.95) scale(3.600,1.848)"/>
<use href="#gT" transform="translate(611.24,251.41) scale(3.600,5.545)"/>
<use href="#gA" transform="translate(614.80,256.95) scale(3.600,1.848)"/>
<use href="#gT" transform="translate(614.80,250.79) scale(3.600,6.161)"/>
<use href="#gA" transform="translate(618.36,255.72) scale(3.600,3.081)"/>
<use href="#gT" transform="translate(618.36,240.93) scale(3.600,14.787)"/>
<use href="#gT" transform="translate(621.92,229.23) scale(3.600,29.575)"/>
<use href="#gA" transform="translate(625.72,256.34) scale(3.600,2.465)"/>
<use href="#gT" transform="translate(625.72,245.86) scale(3.600,10.474)"/>
<use href="#gT" transform="translate(629.16,256.34) scale(3.600,2.465)"/>
<use href="#gA" transform="translate(632.96,255.72) scale(3.600,3.081)"/>
<use href="#gG" transform="translate(632.96,239.08) scale(3.600,16.636)"/>
<use href="#gG" transform="translate(636.52,228.73) scale(3.600,30.068)"/>
<use href="#gT" transform="translate(640.32,255.72) scale(3.600,3.081)"/>
<use href="#gA" transform="translate(640.32,249.56) scale(3.600,6.161)"/>
<use href="#gT" transform="translate(643.76,256.34) scale(3.600,2.465)"/>
<use href="#gA" transform="translate(643.76,235.39) scale(3.600,20.949)"/>
<use href="#gT" transform="translate(647.56,255.72) scale(3.600,3.081)"/>
<use href="#gA" transform="translate(647.56,242.16) scale(3.600,13.555)"/>
<use href="#gA" transform="translate(655.04,256.95) scale(3.600,1.848)"/>
<use href="#gT" transform="translate(655.04,253.25) scale(3.600,3.697)"/>
<line x1="594.4" y1="261.0" x2="594.4" y2="261.7" stroke="#ccc" stroke-width="0.6"/>
<line x1="598.2" y1="261.0" x2="598.2" y2="261.7" stroke="#ccc" stroke-width="0.6"/>
<line x1="602.0" y1="261.0" x2="602.0" y2="261.7" stroke="#ccc" stroke-width="0.6"/>
<line x1="605.7" y1="261.0" x2="605.7" y2="261.7" stroke="#ccc" stroke-width="0.6"/>
<line x1="609.4" y1="261.0" x2="609.4" y2="261.7" stroke="#ccc" stroke-width="0.6"/>
<line x1="613.0" y1="261.0" x2="613.0" y2="261.7" stroke="#ccc" stroke-width="0.6"/>
<line x1="616.6" y1="261.0" x2="616.6" y2="261.7" stroke="#ccc" stroke-width="0.6"/>
<line x1="620.2" y1="261.0" x2="620.2" y2="261.7" stroke="#ccc" stroke-width="0.6"/>
<line x1="623.7" y1="261.0" x2="623.7" y2="261.7" stroke="#ccc" stroke-width="0.6"/>
<line x1="627.5" y1="261.0" x2="627.5" y2="261.7" stroke="#ccc" stroke-width="0.6"/>
<line x1="631.0" y1="261.0" x2="631.0" y2="261.7" stroke="#ccc" stroke-width="0.6"/>
<line x1="634.8" y1="261.0" x2="634.8" y2="261.7" stroke="#ccc" stroke-width="0.6"/>
<line x1="638.3" y1="261.0" x2="638.3" y2="261.7" stroke="#ccc" stroke-width="0.6"/>
<line x1="642.1" y1="261.0" x2="642.1" y2="261.7" stroke="#ccc" stroke-width="0.6"/>
<line x1="645.6" y1="261.0" x2="645.6" y2="261.7" stroke="#ccc" stroke-width="0.6"/>
<line x1="649.4" y1="261.0" x2="649.4" y2="261.7" stroke="#ccc" stroke-width="0.6"/>
<line x1="656.8" y1="261.0" x2="656.8" y2="261.7" stroke="#ccc" stroke-width="0.6"/>
<line x1="582.6" y1="281.3" x2="584.1" y2="281.3" stroke="#bbb" stroke-width="0.6"/>
<line x1="582.6" y1="289.6" x2="584.1" y2="289.6" stroke="#bbb" stroke-width="0.6"/>
<line x1="582.6" y1="297.9" x2="584.1" y2="297.9" stroke="#bbb" stroke-width="0.6"/>
<line x1="582.6" y1="306.1" x2="584.1" y2="306.1" stroke="#bbb" stroke-width="0.6"/>
<line x1="582.6" y1="314.4" x2="584.1" y2="314.4" stroke="#bbb" stroke-width="0.6"/>
<rect x="581.2" y="296.3" width="2.0" height="2.6" rx="0.6" fill="#dcdcdc"/>
<use href="#gC" transform="translate(588.90,310.50) scale(8.400,3.500)"/>
<use href="#gT" transform="translate(588.90,299.50) scale(8.400,11.000)"/>
<use href="#gA" transform="translate(598.30,281.30) scale(8.400,32.700)"/>
<use href="#gA" transform="translate(606.40,281.30) scale(8.400,32.700)"/>
<use href="#gT" transform="translate(615.80,281.00) scale(8.400,33.000)"/>
<use href="#gG" transform="translate(624.30,313.00) scale(8.400,1.000)"/>
<use href="#gC" transform="translate(624.30,309.50) scale(8.400,3.500)"/>
<use href="#gA" transform="translate(624.30,304.40) scale(8.400,5.100)"/>
<use href="#gA" transform="translate(633.30,281.30) scale(8.400,32.700)"/>
<use href="#gT" transform="translate(642.10,281.30) scale(8.400,32.700)"/>
<use href="#gA" transform="translate(650.80,312.50) scale(8.400,1.500)"/>
<use href="#gG" transform="translate(650.80,311.00) scale(8.400,1.500)"/>
<use href="#gT" transform="translate(650.80,293.60) scale(8.400,17.400)"/>
<line x1="593.1" y1="316.2" x2="593.1" y2="316.9" stroke="#ccc" stroke-width="0.6"/>
<line x1="602.5" y1="316.2" x2="602.5" y2="316.9" stroke="#ccc" stroke-width="0.6"/>
<line x1="610.6" y1="316.2" x2="610.6" y2="316.9" stroke="#ccc" stroke-width="0.6"/>
<line x1="620.0" y1="316.2" x2="620.0" y2="316.9" stroke="#ccc" stroke-width="0.6"/>
<line x1="628.5" y1="316.2" x2="628.5" y2="316.9" stroke="#ccc" stroke-width="0.6"/>
<line x1="637.5" y1="316.2" x2="637.5" y2="316.9" stroke="#ccc" stroke-width="0.6"/>
<line x1="646.3" y1="316.2" x2="646.3" y2="316.9" stroke="#ccc" stroke-width="0.6"/>
<line x1="655.0" y1="316.2" x2="655.0" y2="316.9" stroke="#ccc" stroke-width="0.6"/>
<line x1="582.6" y1="354.4" x2="584.1" y2="354.4" stroke="#bbb" stroke-width="0.6"/>
<line x1="582.6" y1="362.6" x2="584.1" y2="362.6" stroke="#bbb" stroke-width="0.6"/>
<line x1="582.6" y1="370.9" x2="584.1" y2="370.9" stroke="#bbb" stroke-width="0.6"/>
<line x1="582.6" y1="379.1" x2="584.1" y2="379.1" stroke="#bbb" stroke-width="0.6"/>
<line x1="582.6" y1="387.3" x2="584.1" y2="387.3" stroke="#bbb" stroke-width="0.6"/>
<rect x="581.2" y="369.3" width="2.0" height="2.6" rx="0.6" fill="#dcdcdc"/>
<use href="#gT" transform="translate(604.90,384.30) scale(5.200,2.000)"/>
<use href="#gA" transform="translate(604.90,365.60) scale(5.200,18.700)"/>
<use href="#gG" transform="translate(610.50,356.90) scale(5.200,29.400)"/>
<use href="#gA" transform="translate(615.50,358.10) scale(5.200,28.200)"/>
<use href="#gT" transform="translate(621.40,359.00) scale(5.200,27.300)"/>
<use href="#gT" transform="translate(626.80,385.30) scale(5.200,1.000)"/>
<use href="#gA" transform="translate(626.80,359.00) scale(5.200,26.300)"/>
<use href="#gA" transform="translate(632.40,359.40) scale(5.200,26.900)"/>
<use href="#gC" transform="translate(638.00,383.30) scale(5.200,3.000)"/>
<use href="#gG" transform="translate(638.00,368.80) scale(5.200,14.500)"/>
<use href="#gG" transform="translate(643.00,383.80) scale(5.200,2.500)"/>
<use href="#gC" transform="translate(643.00,381.80) scale(5.200,2.000)"/>
<use href="#gA" transform="translate(643.00,366.30) scale(5.200,15.500)"/>
<line x1="607.5" y1="388.5" x2="607.5" y2="389.2" stroke="#ccc" stroke-width="0.6"/>
<line x1="613.1" y1="388.5" x2="613.1" y2="389.2" stroke="#ccc" stroke-width="0.6"/>
<line x1="618.1" y1="388.5" x2="618.1" y2="389.2" stroke="#ccc" stroke-width="0.6"/>
<line x1="624.0" y1="388.5" x2="624.0" y2="389.2" stroke="#ccc" stroke-width="0.6"/>
<line x1="629.4" y1="388.5" x2="629.4" y2="389.2" stroke="#ccc" stroke-width="0.6"/>
<line x1="635.0" y1="388.5" x2="635.0" y2="389.2" stroke="#ccc" stroke-width="0.6"/>
<line x1="640.6" y1="388.5" x2="640.6" y2="389.2" stroke="#ccc" stroke-width="0.6"/>
<line x1="645.6" y1="388.5" x2="645.6" y2="389.2" stroke="#ccc" stroke-width="0.6"/>
<line x1="509.6" y1="124.0" x2="569.6" y2="132.8" stroke="#e06666" stroke-width="2"/>
<path d="M581.0,134.5 L568.4,137.4 L569.8,128.1 Z" fill="#e06666" stroke="#e06666" stroke-width="0.5" stroke-linejoin="miter"/>
<line x1="509.4" y1="124.2" x2="572.3" y2="181.7" stroke="#e06666" stroke-width="2"/>
<path d="M580.8,189.5 L568.8,184.9 L575.1,177.9 Z" fill="#e06666" stroke="#e06666" stroke-width="0.5" stroke-linejoin="miter"/>
<line x1="509.6" y1="331.9" x2="573.7" y2="253.3" stroke="#93c47d" stroke-width="2"/>
<path d="M581.0,244.4 L577.1,256.7 L569.8,250.7 Z" fill="#93c47d" stroke="#93c47d" stroke-width="0.5" stroke-linejoin="miter"/>
<line x1="509.6" y1="331.9" x2="570.6" y2="303.6" stroke="#93c47d" stroke-width="2"/>
<path d="M581.0,298.8 L572.1,308.1 L568.1,299.6 Z" fill="#93c47d" stroke="#93c47d" stroke-width="0.5" stroke-linejoin="miter"/>
<line x1="509.6" y1="331.9" x2="570.9" y2="365.7" stroke="#93c47d" stroke-width="2"/>
<path d="M581.0,371.3 L568.2,369.6 L572.8,361.4 Z" fill="#93c47d" stroke="#93c47d" stroke-width="0.5" stroke-linejoin="miter"/>
<line x1="683.4" y1="134.5" x2="764.9" y2="134.5" stroke="#3d85c6" stroke-width="2"/>
<path d="M777.4,134.5 L764.4,138.4 L764.4,130.6 Z" fill="#3d85c6" stroke="#3d85c6" stroke-width="0.5" stroke-linejoin="miter"/>
<line x1="683.4" y1="189.0" x2="764.9" y2="189.0" stroke="#3d85c6" stroke-width="2"/>
<path d="M777.4,189.0 L764.4,192.9 L764.4,185.1 Z" fill="#3d85c6" stroke="#3d85c6" stroke-width="0.5" stroke-linejoin="miter"/>
<line x1="683.4" y1="244.5" x2="764.9" y2="244.5" stroke="#3d85c6" stroke-width="2"/>
<path d="M777.4,244.5 L764.4,248.4 L764.4,240.6 Z" fill="#3d85c6" stroke="#3d85c6" stroke-width="0.5" stroke-linejoin="miter"/>
<line x1="683.4" y1="295.6" x2="764.9" y2="295.6" stroke="#3d85c6" stroke-width="2"/>
<path d="M777.4,295.6 L764.4,299.5 L764.4,291.7 Z" fill="#3d85c6" stroke="#3d85c6" stroke-width="0.5" stroke-linejoin="miter"/>
<line x1="683.4" y1="369.3" x2="765.7" y2="353.3" stroke="#3d85c6" stroke-width="2"/>
<path d="M778.0,350.9 L766.0,357.2 L764.5,349.6 Z" fill="#3d85c6" stroke="#3d85c6" stroke-width="0.5" stroke-linejoin="miter"/>
<line x1="683.4" y1="369.3" x2="763.9" y2="395.2" stroke="#3d85c6" stroke-width="2"/>
<path d="M775.8,399.0 L762.2,398.7 L764.6,391.3 Z" fill="#3d85c6" stroke="#3d85c6" stroke-width="0.5" stroke-linejoin="miter"/>
<text x="730.0" y="127.6" font-size="8" font-weight="normal" fill="#000" text-anchor="middle" >Low IC</text>
<text x="730.4" y="182.6" font-size="7.9" font-weight="normal" fill="#000" text-anchor="middle" >Motif is not GATA6</text>
<text x="730.4" y="237.2" font-size="7.9" font-weight="normal" fill="#000" text-anchor="middle" >Motif is not GATA6</text>
<text x="730.4" y="288.7" font-size="7.9" font-weight="normal" fill="#000" text-anchor="middle" >Motif is not GATA6</text>
<text x="730.4" y="344.0" font-size="8" font-weight="normal" fill="#000" text-anchor="middle" >Motif is GATA6</text>
<text x="859.9" y="137.9" font-size="9.2" font-weight="normal" fill="#000" text-anchor="middle" >Discarded</text>
<text x="859.9" y="192.9" font-size="9.2" font-weight="normal" fill="#000" text-anchor="middle" >Discarded</text>
<text x="859.9" y="248.0" font-size="9.2" font-weight="normal" fill="#000" text-anchor="middle" >Discarded</text>
<text x="859.9" y="299.0" font-size="9.2" font-weight="normal" fill="#000" text-anchor="middle" >Discarded</text>
<text x="868.0" y="337.9" font-size="9.2" font-weight="normal" fill="#000" text-anchor="middle" >Orthogonal</text>
<text x="868.0" y="348.65" font-size="9.2" font-weight="normal" fill="#000" text-anchor="middle" >support present:</text>
<text x="868.0" y="359.4" font-size="9.2" font-weight="normal" fill="#000" text-anchor="middle" >Add to CORE</text>
<text x="868.0" y="385.3" font-size="9.2" font-weight="normal" fill="#000" text-anchor="middle" >Orthogonal</text>
<text x="868.0" y="396.0" font-size="9.2" font-weight="normal" fill="#000" text-anchor="middle" >support not</text>
<text x="868.0" y="406.7" font-size="9.2" font-weight="normal" fill="#000" text-anchor="middle" >found: Add to</text>
<text x="868.0" y="417.4" font-size="9.2" font-weight="normal" fill="#000" text-anchor="middle" >UNVALIDATED</text>
<text x="735.9" y="456.0" font-size="12" font-weight="normal" fill="#000" text-anchor="middle" >Inspecting motifs and searching for orthogonal support</text>
<g opacity="1.0">
<path d="M791.6,180.5 H803.2 L806.0,183.3 V198.3 H791.6 Z" fill="#fff" stroke="#444" stroke-width="1.15" stroke-linejoin="round"/>
<path d="M803.2,180.5 V183.3 H806.0 Z" fill="#444" stroke="#444" stroke-width="0.6"/>
<line x1="793.9" y1="187.6" x2="803.7" y2="187.6" stroke="#444" stroke-width="0.9"/>
<line x1="793.9" y1="189.9" x2="803.7" y2="189.9" stroke="#9a9a9a" stroke-width="1.5"/>
<line x1="793.9" y1="192.4" x2="803.7" y2="192.4" stroke="#444" stroke-width="0.9"/>
<line x1="793.9" y1="194.7" x2="803.7" y2="194.7" stroke="#9a9a9a" stroke-width="1.5"/>
</g>
<path d="M809.6,183.3 L821.8,196.3 M821.8,183.3 L809.6,196.3" stroke="#ee1c2e" stroke-width="2.2"/>
<g opacity="1.0">
<path d="M791.6,235.5 H803.2 L806.0,238.3 V253.5 H791.6 Z" fill="#fff" stroke="#444" stroke-width="1.15" stroke-linejoin="round"/>
<path d="M803.2,235.5 V238.3 H806.0 Z" fill="#444" stroke="#444" stroke-width="0.6"/>
<line x1="793.9" y1="242.7" x2="803.7" y2="242.7" stroke="#444" stroke-width="0.9"/>
<line x1="793.9" y1="245.0" x2="803.7" y2="245.0" stroke="#9a9a9a" stroke-width="1.5"/>
<line x1="793.9" y1="247.6" x2="803.7" y2="247.6" stroke="#444" stroke-width="0.9"/>
<line x1="793.9" y1="249.9" x2="803.7" y2="249.9" stroke="#9a9a9a" stroke-width="1.5"/>
</g>
<path d="M809.6,238.3 L821.8,251.3 M821.8,238.3 L809.6,251.3" stroke="#ee1c2e" stroke-width="2.2"/>
<g opacity="1.0">
<path d="M791.6,286.5 H803.2 L806.0,289.3 V304.8 H791.6 Z" fill="#fff" stroke="#444" stroke-width="1.15" stroke-linejoin="round"/>
<path d="M803.2,286.5 V289.3 H806.0 Z" fill="#444" stroke="#444" stroke-width="0.6"/>
<line x1="793.9" y1="293.8" x2="803.7" y2="293.8" stroke="#444" stroke-width="0.9"/>
<line x1="793.9" y1="296.2" x2="803.7" y2="296.2" stroke="#9a9a9a" stroke-width="1.5"/>
<line x1="793.9" y1="298.8" x2="803.7" y2="298.8" stroke="#444" stroke-width="0.9"/>
<line x1="793.9" y1="301.1" x2="803.7" y2="301.1" stroke="#9a9a9a" stroke-width="1.5"/>
</g>
<path d="M809.6,289.3 L821.8,302.3 M821.8,289.3 L809.6,302.3" stroke="#ee1c2e" stroke-width="2.2"/>
<g opacity="1.0">
<path d="M791.6,340.5 H803.2 L806.0,343.3 V358.8 H791.6 Z" fill="#fff" stroke="#444" stroke-width="1.15" stroke-linejoin="round"/>
<path d="M803.2,340.5 V343.3 H806.0 Z" fill="#444" stroke="#444" stroke-width="0.6"/>
<line x1="793.9" y1="347.8" x2="803.7" y2="347.8" stroke="#444" stroke-width="0.9"/>
<line x1="793.9" y1="350.2" x2="803.7" y2="350.2" stroke="#9a9a9a" stroke-width="1.5"/>
<line x1="793.9" y1="352.8" x2="803.7" y2="352.8" stroke="#444" stroke-width="0.9"/>
<line x1="793.9" y1="355.1" x2="803.7" y2="355.1" stroke="#9a9a9a" stroke-width="1.5"/>
</g>
<path d="M806.8,351.4 L809.3,348.7 L812.2,352.0 Q817.5,345.2 825.6,341.6 L825.3,342.6 Q818.5,347.5 812.4,357.5 Z" fill="#6abf40" stroke="#6abf40" stroke-width="0.5" stroke-linejoin="round"/>
<g opacity="1.0">
<path d="M791.6,389.5 H803.2 L806.0,392.3 V408.0 H791.6 Z" fill="#fff" stroke="#d4d4d4" stroke-width="1.15" stroke-linejoin="round"/>
<path d="M803.2,389.5 V392.3 H806.0 Z" fill="#d4d4d4" stroke="#d4d4d4" stroke-width="0.6"/>
<line x1="793.9" y1="396.9" x2="803.7" y2="396.9" stroke="#d8d8d8" stroke-width="0.9"/>
<line x1="793.9" y1="399.3" x2="803.7" y2="399.3" stroke="#e4e4e4" stroke-width="1.5"/>
<line x1="793.9" y1="401.9" x2="803.7" y2="401.9" stroke="#d8d8d8" stroke-width="0.9"/>
<line x1="793.9" y1="404.3" x2="803.7" y2="404.3" stroke="#e4e4e4" stroke-width="1.5"/>
</g>
</g></svg>
</body></html>
